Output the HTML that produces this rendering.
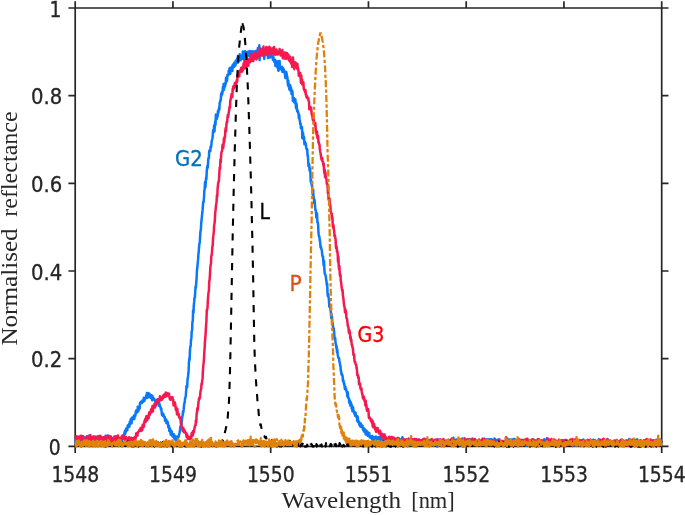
<!DOCTYPE html>
<html lang="en"><head><meta charset="utf-8"><title>Normalised reflectance vs wavelength</title>
<style>
html,body{margin:0;padding:0;background:#fff}
body{width:685px;height:515px;overflow:hidden}
svg{display:block}
.tk{font-family:"DejaVu Sans Condensed","DejaVu Sans","Liberation Sans",sans-serif;font-size:21.6px;fill:#262626;stroke:#262626;stroke-width:0.3px}
.lb{font-family:"Liberation Serif","DejaVu Serif",serif;font-size:24px;fill:#262626}
.an{font-family:"DejaVu Sans Condensed","DejaVu Sans","Liberation Sans",sans-serif;font-size:21px;stroke-width:0.3px}
.c{fill:none;stroke-linejoin:round;stroke-linecap:butt}
</style></head><body>
<svg width="685" height="515" viewBox="0 0 685 515">
<rect width="685" height="515" fill="#fff"/>
<path d="M75.2,8.0H661.7V446.3H75.2ZM75.20,446.3v6.8M75.20,8.0v-6.8M172.95,446.3v6.8M172.95,8.0v-6.8M270.70,446.3v6.8M270.70,8.0v-6.8M368.45,446.3v6.8M368.45,8.0v-6.8M466.20,446.3v6.8M466.20,8.0v-6.8M563.95,446.3v6.8M563.95,8.0v-6.8M661.70,446.3v6.8M661.70,8.0v-6.8M75.2,446.30h-6.8M661.7,446.30h6.8M75.2,358.64h-6.8M661.7,358.64h6.8M75.2,270.98h-6.8M661.7,270.98h6.8M75.2,183.32h-6.8M661.7,183.32h6.8M75.2,95.66h-6.8M661.7,95.66h6.8M75.2,8.00h-6.8M661.7,8.00h6.8" fill="none" stroke="#262626" stroke-width="1.7"/>
<path class="c" stroke="#0a78fa" stroke-width="2.5" d="M75.2,439.5 75.5,442.1 75.9,440.0 76.2,437.3 76.6,437.5 76.9,440.4 77.3,436.9 77.6,440.4 78.0,443.1 78.3,438.6 78.7,438.5 79.0,437.7 79.4,437.8 79.7,437.5 80.1,438.6 80.4,438.9 80.8,441.0 81.1,439.1 81.5,440.2 81.8,441.3 82.2,437.8 82.5,436.5 82.9,439.9 83.2,437.6 83.6,436.6 83.9,439.0 84.3,439.4 84.6,441.3 85.0,439.4 85.3,438.6 85.7,438.3 86.0,437.4 86.4,436.9 86.7,436.4 87.1,440.2 87.4,436.8 87.8,437.4 88.1,436.4 88.5,438.9 88.8,435.7 89.2,436.4 89.5,439.8 89.9,438.2 90.2,439.8 90.6,439.3 90.9,438.6 91.3,437.1 91.6,438.2 92.0,438.7 92.3,440.6 92.7,437.9 93.0,439.0 93.4,436.7 93.7,438.8 94.1,438.9 94.4,438.0 94.8,440.1 95.1,437.4 95.5,440.7 95.8,439.6 96.2,438.2 96.5,440.2 96.9,439.7 97.2,436.6 97.6,438.5 97.9,437.9 98.3,438.1 98.6,437.0 99.0,440.3 99.3,437.4 99.7,439.4 100.0,436.9 100.4,440.6 100.7,439.0 101.1,436.7 101.4,439.6 101.8,442.0 102.1,441.3 102.5,438.8 102.8,438.0 103.2,438.0 103.5,441.3 103.9,437.9 104.2,437.2 104.6,440.7 104.9,438.5 105.3,438.3 105.6,435.8 106.0,437.6 106.3,436.0 106.7,436.0 107.0,438.3 107.4,438.0 107.7,437.9 108.1,437.7 108.4,438.8 108.8,435.8 109.1,439.3 109.5,436.1 109.8,436.8 110.2,441.2 110.5,439.5 110.9,439.9 111.2,440.8 111.6,441.1 111.9,438.0 112.3,440.7 112.6,441.0 113.0,439.1 113.3,439.9 113.7,439.8 114.0,440.8 114.4,436.5 114.7,440.2 115.1,437.4 115.4,440.1 115.8,442.4 116.1,438.4 116.5,439.5 116.8,442.4 117.2,439.4 117.5,441.6 117.9,441.3 118.2,440.9 118.6,442.3 118.9,438.6 119.3,438.2 119.6,439.9 120.0,438.4 120.3,438.5 120.7,441.6 121.0,439.4 121.4,438.5 121.7,437.7 122.1,440.9 122.4,437.4 122.8,437.8 123.1,436.0 123.5,435.4 123.8,436.1 124.2,434.9 124.5,432.6 124.9,431.1 125.2,433.8 125.6,430.0 125.9,431.7 126.3,428.4 126.6,428.6 127.0,428.7 127.3,430.3 127.7,425.5 128.0,427.5 128.4,426.7 128.7,426.8 129.1,424.1 129.4,426.8 129.8,421.9 130.1,421.6 130.5,421.1 130.8,419.4 131.2,418.6 131.5,423.4 131.9,420.8 132.2,417.6 132.6,419.4 132.9,419.1 133.3,418.0 133.6,418.7 134.0,415.4 134.3,419.1 134.7,414.9 135.0,415.2 135.4,415.9 135.7,412.1 136.1,410.6 136.4,412.9 136.8,412.8 137.1,411.6 137.5,411.5 137.8,406.7 138.2,411.4 138.5,410.2 138.9,409.0 139.2,406.7 139.6,408.6 139.9,403.7 140.3,402.5 140.6,402.9 141.0,401.8 141.3,402.4 141.7,401.7 142.0,403.1 142.4,400.4 142.7,401.6 143.1,400.1 143.4,401.7 143.8,397.7 144.1,398.0 144.5,400.7 144.8,399.1 145.2,399.1 145.5,398.4 145.9,398.2 146.2,395.5 146.6,397.2 146.9,392.9 147.3,395.8 147.6,397.7 148.0,396.6 148.3,393.1 148.7,393.9 149.0,394.7 149.4,393.6 149.7,396.3 150.1,397.3 150.4,395.0 150.8,397.9 151.1,397.8 151.5,395.2 151.8,397.8 152.2,400.2 152.5,396.0 152.9,398.9 153.2,399.0 153.6,399.1 153.9,398.3 154.3,399.9 154.6,399.5 155.0,401.0 155.3,401.4 155.7,400.8 156.0,401.8 156.4,403.2 156.7,402.3 157.1,399.8 157.4,399.6 157.8,403.7 158.1,400.4 158.5,403.4 158.8,405.8 159.2,403.0 159.5,403.9 159.9,405.9 160.2,406.8 160.6,407.0 160.9,409.4 161.3,408.6 161.6,411.7 162.0,415.2 162.3,413.1 162.7,414.3 163.0,416.1 163.4,414.1 163.7,415.9 164.1,416.4 164.4,417.8 164.8,416.8 165.1,420.8 165.5,421.3 165.8,420.1 166.2,419.4 166.5,423.3 166.9,421.3 167.2,421.2 167.6,422.1 167.9,422.9 168.3,427.3 168.6,425.3 169.0,426.0 169.3,430.9 169.7,430.4 170.0,428.6 170.4,430.1 170.7,434.6 171.1,431.7 171.4,433.6 171.8,431.5 172.1,434.9 172.5,436.3 172.8,436.0 173.2,437.0 173.5,434.2 173.9,434.2 174.2,436.0 174.6,439.3 174.9,436.0 175.3,437.0 175.6,439.3 176.0,440.8 176.3,440.4 176.7,437.2 177.0,436.6 177.4,439.8 177.7,438.2 178.1,437.4 178.4,437.4 178.8,436.1 179.1,434.2 179.5,433.4 179.8,430.9 180.2,428.8 180.5,426.2 180.9,427.1 181.2,425.8 181.6,422.7 181.9,419.7 182.3,416.6 182.6,415.6 183.0,411.2 183.3,412.7 183.7,409.2 184.0,405.5 184.4,402.9 184.7,402.6 185.1,398.1 185.4,397.6 185.8,396.2 186.1,391.2 186.5,386.0 186.8,386.9 187.2,386.9 187.5,379.6 187.9,377.9 188.2,374.5 188.6,371.5 188.9,363.4 189.3,358.4 189.6,360.0 190.0,350.4 190.3,346.6 190.7,346.0 191.0,340.0 191.4,337.9 191.7,331.0 192.1,330.8 192.4,321.9 192.8,321.1 193.1,310.4 193.5,312.6 193.8,305.4 194.2,301.7 194.5,297.7 194.9,297.4 195.2,291.8 195.6,286.5 195.9,287.6 196.3,281.7 196.6,278.3 197.0,269.7 197.3,268.0 197.7,263.1 198.0,260.7 198.4,254.4 198.7,251.8 199.1,246.7 199.4,243.6 199.8,242.6 200.1,236.5 200.5,230.9 200.8,230.4 201.2,223.4 201.5,220.5 201.9,216.6 202.2,213.3 202.6,210.4 202.9,205.6 203.3,201.7 203.6,202.2 204.0,197.8 204.3,191.3 204.7,188.5 205.0,182.3 205.4,187.5 205.7,183.2 206.1,177.5 206.4,179.3 206.8,170.5 207.1,168.0 207.5,165.8 207.8,167.7 208.2,159.9 208.5,158.0 208.9,158.4 209.2,151.0 209.6,150.4 209.9,150.0 210.3,151.1 210.6,146.7 211.0,147.4 211.3,145.5 211.7,141.1 212.0,140.2 212.4,138.7 212.7,136.5 213.1,130.2 213.4,130.3 213.8,132.0 214.1,125.6 214.5,131.5 214.8,125.8 215.2,121.5 215.5,125.0 215.9,114.6 216.2,118.4 216.6,114.9 216.9,118.9 217.3,114.7 217.6,116.7 218.0,110.8 218.3,112.9 218.7,110.3 219.0,108.1 219.4,109.5 219.7,102.5 220.1,102.4 220.4,100.2 220.8,100.1 221.1,93.9 221.5,95.8 221.8,91.9 222.2,94.0 222.5,92.6 222.9,87.0 223.2,90.6 223.6,84.1 223.9,89.8 224.3,86.4 224.6,83.4 225.0,86.6 225.3,84.1 225.7,84.0 226.0,77.7 226.4,79.7 226.7,81.5 227.1,80.1 227.4,74.9 227.8,75.8 228.1,75.1 228.5,72.9 228.8,70.6 229.2,74.3 229.5,68.3 229.9,68.1 230.2,74.0 230.6,67.7 230.9,70.7 231.3,69.9 231.6,70.0 232.0,66.6 232.3,71.1 232.7,65.3 233.0,64.5 233.4,67.3 233.7,65.6 234.1,66.8 234.4,62.4 234.8,63.4 235.1,62.3 235.5,65.5 235.8,60.6 236.2,61.8 236.5,63.1 236.9,60.0 237.2,58.6 237.6,61.9 237.9,56.0 238.3,62.4 238.6,59.7 239.0,58.8 239.3,60.6 239.7,54.3 240.0,56.3 240.4,60.2 240.7,58.4 241.1,58.4 241.4,58.6 241.8,59.1 242.1,56.5 242.5,55.6 242.8,51.6 243.2,54.3 243.5,53.6 243.9,53.9 244.2,59.6 244.6,54.1 244.9,51.3 245.3,53.3 245.6,53.0 246.0,58.7 246.3,63.2 246.7,52.6 247.0,52.1 247.4,56.5 247.7,54.1 248.1,55.8 248.4,51.5 248.8,55.3 249.1,53.3 249.5,52.3 249.8,51.1 250.2,53.5 250.5,56.1 250.9,54.4 251.2,51.3 251.6,54.4 251.9,52.5 252.3,53.1 252.6,52.2 253.0,51.3 253.3,52.4 253.7,55.4 254.0,55.9 254.4,51.4 254.7,55.6 255.1,56.4 255.4,53.1 255.8,51.1 256.1,52.0 256.5,51.5 256.8,52.8 257.2,50.6 257.5,51.7 257.9,47.9 258.2,50.8 258.6,50.9 258.9,52.9 259.3,45.3 259.6,60.1 260.0,50.5 260.3,50.4 260.7,49.8 261.0,48.6 261.4,50.1 261.7,54.7 262.1,54.8 262.4,50.8 262.8,49.5 263.1,52.2 263.5,55.1 263.8,54.0 264.2,58.9 264.5,55.9 264.9,54.8 265.2,54.5 265.6,54.5 265.9,51.0 266.3,52.5 266.6,52.5 267.0,53.7 267.3,50.4 267.7,53.4 268.0,58.1 268.4,50.8 268.7,51.3 269.1,51.3 269.4,53.9 269.8,57.6 270.1,50.8 270.5,52.1 270.8,52.3 271.2,56.9 271.5,55.8 271.9,56.3 272.2,56.4 272.6,56.9 272.9,59.9 273.3,56.5 273.6,60.4 274.0,58.9 274.3,62.0 274.7,61.9 275.0,59.7 275.4,66.0 275.7,65.5 276.1,65.0 276.4,61.5 276.8,65.8 277.1,65.9 277.5,67.8 277.8,61.2 278.2,70.3 278.5,70.7 278.9,63.8 279.2,65.4 279.6,60.9 279.9,68.2 280.3,68.3 280.6,69.3 281.0,68.2 281.3,67.4 281.7,68.7 282.0,66.8 282.4,72.0 282.7,70.4 283.1,68.2 283.4,70.1 283.8,69.3 284.1,72.2 284.5,72.6 284.8,71.4 285.2,77.2 285.5,78.0 285.9,74.0 286.2,71.9 286.6,73.6 286.9,76.4 287.3,76.5 287.6,80.7 288.0,85.3 288.3,80.4 288.7,86.7 289.0,86.4 289.4,89.5 289.7,84.8 290.1,85.0 290.4,90.5 290.8,87.2 291.1,88.3 291.5,93.9 291.8,93.4 292.2,90.6 292.5,92.7 292.9,101.0 293.2,97.7 293.6,100.7 293.9,98.0 294.3,102.5 294.6,98.8 295.0,103.0 295.3,99.2 295.7,104.0 296.0,108.2 296.4,103.4 296.7,105.3 297.1,111.2 297.4,110.5 297.8,110.7 298.1,113.2 298.5,113.0 298.8,117.8 299.2,114.9 299.5,119.3 299.9,120.5 300.2,124.1 300.6,123.3 300.9,128.2 301.3,127.2 301.6,127.9 302.0,127.0 302.3,138.1 302.7,134.8 303.0,132.6 303.4,138.8 303.7,136.4 304.1,137.9 304.4,144.3 304.8,142.6 305.1,141.7 305.5,144.7 305.8,143.5 306.2,147.8 306.5,149.0 306.9,149.7 307.2,149.1 307.6,155.9 307.9,155.9 308.3,163.0 308.6,166.4 309.0,163.9 309.3,165.7 309.7,170.8 310.0,168.6 310.4,173.2 310.7,181.4 311.1,180.2 311.4,184.2 311.8,181.8 312.1,187.6 312.5,191.3 312.8,194.9 313.2,189.8 313.5,197.3 313.9,197.6 314.2,203.2 314.6,200.0 314.9,203.8 315.3,209.3 315.6,209.8 316.0,212.4 316.3,217.5 316.7,215.0 317.0,213.2 317.4,222.3 317.7,221.9 318.1,224.1 318.4,231.3 318.8,236.0 319.1,235.7 319.5,237.8 319.8,240.3 320.2,242.5 320.5,247.2 320.9,246.4 321.2,248.8 321.6,249.4 321.9,250.8 322.3,255.4 322.6,256.5 323.0,256.4 323.3,261.3 323.7,265.7 324.0,260.7 324.4,269.6 324.7,273.2 325.1,274.6 325.4,274.7 325.8,276.4 326.1,279.6 326.5,281.1 326.8,285.1 327.2,283.8 327.5,293.2 327.9,296.3 328.2,294.2 328.6,297.4 328.9,299.7 329.3,306.4 329.6,307.1 330.0,304.7 330.3,307.6 330.7,311.0 331.0,314.3 331.4,318.5 331.7,314.5 332.1,318.3 332.4,321.9 332.8,324.4 333.1,327.6 333.5,328.6 333.8,328.6 334.2,332.9 334.5,338.1 334.9,338.8 335.2,337.8 335.6,343.6 335.9,344.0 336.3,347.9 336.6,346.1 337.0,352.1 337.3,349.5 337.7,354.4 338.0,356.0 338.4,358.1 338.7,358.0 339.1,358.4 339.4,361.6 339.8,362.6 340.1,365.0 340.5,366.1 340.8,370.9 341.2,371.4 341.5,374.7 341.9,374.1 342.2,374.7 342.6,376.0 342.9,381.0 343.3,380.1 343.6,381.7 344.0,384.4 344.3,383.4 344.7,387.8 345.0,389.1 345.4,386.8 345.7,389.7 346.1,389.2 346.4,390.7 346.8,391.7 347.1,394.1 347.5,396.9 347.8,392.3 348.2,398.0 348.5,397.6 348.9,398.3 349.2,402.6 349.6,402.0 349.9,400.5 350.3,405.6 350.6,402.1 351.0,403.2 351.3,404.3 351.7,408.6 352.0,405.5 352.4,411.2 352.7,410.3 353.1,407.3 353.4,411.0 353.8,411.0 354.1,412.6 354.5,413.7 354.8,413.4 355.2,415.9 355.5,412.4 355.9,416.4 356.2,415.1 356.6,417.1 356.9,417.7 357.3,421.2 357.6,416.4 358.0,419.4 358.3,422.5 358.7,422.3 359.0,421.7 359.4,425.2 359.7,422.8 360.1,424.2 360.4,426.7 360.8,423.5 361.1,426.0 361.5,426.0 361.8,426.9 362.2,426.4 362.5,425.6 362.9,429.5 363.2,429.1 363.6,430.2 363.9,431.6 364.3,428.5 364.6,429.1 365.0,430.7 365.3,430.8 365.7,434.6 366.0,430.7 366.4,430.5 366.7,433.4 367.1,432.0 367.4,431.7 367.8,435.8 368.1,435.9 368.5,434.2 368.8,436.2 369.2,432.9 369.5,435.6 369.9,437.5 370.2,435.9 370.6,436.4 370.9,438.1 371.3,438.1 371.6,436.6 372.0,439.3 372.3,436.1 372.7,442.6 373.0,436.9 373.4,438.0 373.7,437.2 374.1,439.8 374.4,438.6 374.8,439.5 375.1,441.8 375.5,441.1 375.8,436.5 376.2,440.4 376.5,439.9 376.9,439.3 377.2,439.0 377.6,438.5 377.9,438.5 378.3,437.1 378.6,438.9 379.0,438.2 379.3,438.6 379.7,439.2 380.0,437.0 380.4,438.3 380.7,443.2 381.1,438.9 381.4,439.7 381.8,441.1 382.1,439.6 382.5,439.7 382.8,442.8 383.2,443.3 383.5,441.9 383.9,438.7 384.2,440.5 384.6,438.5 384.9,438.7 385.3,440.0 385.6,439.1 386.0,441.3 386.3,439.5 386.7,438.7 387.0,442.4 387.4,440.2 387.7,440.2 388.1,439.4 388.4,443.3 388.8,441.8 389.1,441.7 389.5,442.0 389.8,438.6 390.2,440.1 390.5,440.8 390.9,445.5 391.2,442.5 391.6,441.4 391.9,439.9 392.3,438.3 392.6,441.7 393.0,438.7 393.3,438.4 393.7,440.7 394.0,442.3 394.4,442.2 394.7,440.1 395.1,440.1 395.4,438.7 395.8,442.5 396.1,443.4 396.5,439.6 396.8,442.6 397.2,440.6 397.5,441.0 397.9,441.8 398.2,438.5 398.6,441.6 398.9,439.5 399.3,442.2 399.6,441.6 400.0,443.0 400.3,444.3 400.7,440.5 401.0,439.4 401.4,443.9 401.7,440.8 402.1,439.0 402.4,437.2 402.8,444.0 403.1,442.1 403.5,439.7 403.8,442.2 404.2,442.6 404.5,441.4 404.9,444.5 405.2,443.5 405.6,439.9 405.9,440.9 406.3,441.7 406.6,442.6 407.0,442.6 407.3,442.7 407.7,441.6 408.0,440.7 408.4,443.0 408.7,438.6 409.1,442.1 409.4,441.5 409.8,440.9 410.1,444.3 410.5,442.6 410.8,440.4 411.2,441.1 411.5,442.9 411.9,440.5 412.2,441.9 412.6,440.0 412.9,441.9 413.3,442.8 413.6,443.4 414.0,442.0 414.3,443.1 414.7,440.3 415.0,444.3 415.4,444.8 415.7,441.3 416.1,441.8 416.4,443.3 416.8,440.0 417.1,443.1 417.5,440.6 417.8,442.4 418.2,441.2 418.5,441.5 418.9,443.9 419.2,440.2 419.6,443.8 419.9,443.1 420.3,441.0 420.6,440.8 421.0,440.6 421.3,441.6 421.7,444.2 422.0,440.9 422.4,442.6 422.7,445.0 423.1,444.2 423.4,443.4 423.8,445.3 424.1,441.1 424.5,444.9 424.8,441.2 425.2,445.0 425.5,444.0 425.9,443.1 426.2,440.9 426.6,439.5 426.9,442.6 427.3,441.5 427.6,440.2 428.0,440.2 428.3,444.5 428.7,443.7 429.0,441.5 429.4,440.4 429.7,440.9 430.1,439.8 430.4,441.4 430.8,442.9 431.1,442.2 431.5,441.0 431.8,440.9 432.2,444.0 432.5,440.6 432.9,441.3 433.2,442.1 433.6,444.1 433.9,440.8 434.3,441.7 434.6,441.0 435.0,442.8 435.3,440.7 435.7,442.1 436.0,444.5 436.4,443.2 436.7,441.9 437.1,440.8 437.4,446.6 437.8,439.5 438.1,440.1 438.5,443.9 438.8,439.8 439.2,440.2 439.5,440.7 439.9,440.3 440.2,441.5 440.6,441.7 440.9,440.4 441.3,440.3 441.6,443.3 442.0,443.8 442.3,442.8 442.7,440.0 443.0,442.6 443.4,441.9 443.7,443.2 444.1,444.7 444.4,441.7 444.8,441.7 445.1,440.7 445.5,441.4 445.8,442.9 446.2,443.5 446.5,440.8 446.9,443.7 447.2,443.2 447.6,440.7 447.9,441.4 448.3,442.7 448.6,439.7 449.0,442.7 449.3,442.2 449.7,443.0 450.0,443.3 450.4,442.9 450.7,441.1 451.1,441.2 451.4,443.1 451.8,440.4 452.1,443.1 452.5,442.2 452.8,443.5 453.2,445.0 453.5,437.8 453.9,444.6 454.2,442.9 454.6,440.4 454.9,440.8 455.3,440.5 455.6,442.0 456.0,439.7 456.3,440.2 456.7,439.5 457.0,441.2 457.4,443.5 457.7,443.7 458.1,440.7 458.4,442.5 458.8,441.3 459.1,441.9 459.5,445.9 459.8,441.7 460.2,444.6 460.5,443.2 460.9,441.0 461.2,442.5 461.6,440.4 461.9,443.6 462.3,438.5 462.6,440.5 463.0,443.7 463.3,442.0 463.7,440.8 464.0,441.9 464.4,440.2 464.7,442.3 465.1,442.9 465.4,443.5 465.8,439.9 466.1,441.7 466.5,443.5 466.8,441.5 467.2,443.0 467.5,439.4 467.9,443.6 468.2,441.8 468.6,442.7 468.9,442.8 469.3,444.3 469.6,438.9 470.0,442.9 470.3,440.5 470.7,440.8 471.0,439.6 471.4,442.4 471.7,441.5 472.1,442.6 472.4,438.4 472.8,439.8 473.1,440.4 473.5,442.5 473.8,442.3 474.2,441.1 474.5,442.2 474.9,443.0 475.2,441.5 475.6,441.0 475.9,441.6 476.3,444.9 476.6,443.2 477.0,441.4 477.3,441.4 477.7,441.9 478.0,442.4 478.4,441.6 478.7,443.7 479.1,441.8 479.4,441.2 479.8,441.9 480.1,444.0 480.5,444.3 480.8,442.1 481.2,442.6 481.5,441.4 481.9,444.4 482.2,440.2 482.6,439.5 482.9,443.8 483.3,441.7 483.6,442.7 484.0,440.8 484.3,441.0 484.7,439.4 485.0,443.1 485.4,440.2 485.7,443.9 486.1,443.1 486.4,440.9 486.8,439.4 487.1,443.4 487.5,440.9 487.8,441.0 488.2,441.5 488.5,439.2 488.9,439.8 489.2,441.2 489.6,441.8 489.9,441.9 490.3,439.2 490.6,441.8 491.0,441.3 491.3,443.7 491.7,439.2 492.0,441.3 492.4,443.9 492.7,441.4 493.1,441.4 493.4,441.6 493.8,441.5 494.1,445.3 494.5,438.4 494.8,439.3 495.2,439.2 495.5,443.5 495.9,442.1 496.2,444.4 496.6,444.9 496.9,444.4 497.3,441.3 497.6,439.8 498.0,442.5 498.3,444.6 498.7,443.1 499.0,439.5 499.4,442.9 499.7,443.6 500.1,443.2 500.4,443.6 500.8,443.5 501.1,443.5 501.5,442.3 501.8,441.1 502.2,443.5 502.5,441.2 502.9,441.5 503.2,444.5 503.6,441.5 503.9,443.2 504.3,443.3 504.6,441.5 505.0,443.8 505.3,443.2 505.7,441.0 506.0,441.1 506.4,440.3 506.7,444.7 507.1,440.5 507.4,438.8 507.8,443.3 508.1,442.7 508.5,442.7 508.8,442.5 509.2,439.5 509.5,439.7 509.9,441.7 510.2,439.7 510.6,441.3 510.9,442.3 511.3,442.9 511.6,441.4 512.0,439.4 512.3,441.6 512.7,442.2 513.0,439.9 513.4,442.6 513.7,439.0 514.1,445.5 514.4,439.0 514.8,442.5 515.1,444.0 515.5,443.7 515.8,444.0 516.2,443.5 516.5,441.0 516.9,440.8 517.2,442.6 517.6,444.3 517.9,440.7 518.3,442.9 518.6,440.6 519.0,442.2 519.3,441.5 519.7,443.4 520.0,444.6 520.4,442.0 520.7,441.4 521.1,442.4 521.4,441.3 521.8,441.4 522.1,440.6 522.5,442.1 522.8,440.1 523.2,440.5 523.5,440.0 523.9,442.0 524.2,440.6 524.6,443.4 524.9,443.3 525.3,442.2 525.6,443.8 526.0,445.8 526.3,442.9 526.7,443.1 527.0,442.2 527.4,443.4 527.7,444.6 528.1,441.5 528.4,444.9 528.8,442.4 529.1,443.0 529.5,443.4 529.8,443.9 530.2,441.1 530.5,443.6 530.9,440.6 531.2,441.9 531.6,442.6 531.9,439.5 532.3,440.6 532.6,442.9 533.0,443.3 533.3,442.4 533.7,441.6 534.0,442.6 534.4,440.0 534.7,441.7 535.1,442.1 535.4,441.3 535.8,441.6 536.1,440.6 536.5,442.7 536.8,442.6 537.2,443.0 537.5,441.1 537.9,439.6 538.2,441.5 538.6,442.6 538.9,444.0 539.3,442.5 539.6,440.1 540.0,443.1 540.3,441.1 540.7,443.0 541.0,440.5 541.4,440.3 541.7,442.8 542.1,442.1 542.4,442.0 542.8,442.8 543.1,442.7 543.5,440.3 543.8,441.4 544.2,439.2 544.5,442.7 544.9,441.7 545.2,442.2 545.6,440.0 545.9,442.5 546.3,439.8 546.6,441.7 547.0,438.3 547.3,442.5 547.7,444.0 548.0,441.8 548.4,440.5 548.7,442.1 549.1,440.4 549.4,445.3 549.8,439.9 550.1,440.5 550.5,442.2 550.8,440.6 551.2,441.4 551.5,440.2 551.9,443.3 552.2,443.5 552.6,440.3 552.9,442.6 553.3,439.9 553.6,442.5 554.0,441.9 554.3,440.9 554.7,444.0 555.0,443.4 555.4,441.2 555.7,440.7 556.1,443.2 556.4,446.6 556.8,442.6 557.1,444.5 557.5,445.3 557.8,443.9 558.2,443.5 558.5,442.6 558.9,440.9 559.2,443.9 559.6,445.9 559.9,441.7 560.3,442.0 560.6,440.6 561.0,444.3 561.3,441.3 561.7,443.7 562.0,441.0 562.4,443.5 562.7,443.3 563.1,442.6 563.4,440.6 563.8,441.8 564.1,442.9 564.5,440.3 564.8,440.1 565.2,441.7 565.5,440.0 565.9,444.2 566.2,443.3 566.6,443.2 566.9,444.2 567.3,442.2 567.6,440.8 568.0,443.4 568.3,443.1 568.7,443.2 569.0,442.5 569.4,444.5 569.7,442.1 570.1,441.5 570.4,442.1 570.8,441.6 571.1,440.7 571.5,439.8 571.8,443.6 572.2,441.7 572.5,443.5 572.9,444.7 573.2,443.7 573.6,444.0 573.9,445.5 574.3,442.3 574.6,443.2 575.0,441.1 575.3,442.5 575.7,445.6 576.0,441.2 576.4,443.2 576.7,443.8 577.1,442.7 577.4,443.4 577.8,441.7 578.1,441.0 578.5,442.1 578.8,441.1 579.2,442.1 579.5,441.6 579.9,446.0 580.2,441.8 580.6,443.2 580.9,445.2 581.3,441.2 581.6,444.5 582.0,442.5 582.3,443.0 582.7,442.1 583.0,442.0 583.4,439.6 583.7,441.5 584.1,441.4 584.4,442.2 584.8,442.6 585.1,442.4 585.5,444.3 585.8,443.6 586.2,440.7 586.5,441.8 586.9,441.2 587.2,440.5 587.6,444.7 587.9,442.1 588.3,440.9 588.6,440.3 589.0,441.9 589.3,441.0 589.7,440.4 590.0,443.2 590.4,440.7 590.7,442.8 591.1,441.7 591.4,442.0 591.8,441.5 592.1,442.4 592.5,445.5 592.8,443.6 593.2,439.8 593.5,441.4 593.9,440.6 594.2,440.8 594.6,441.2 594.9,440.0 595.3,444.4 595.6,443.2 596.0,443.1 596.3,443.7 596.7,440.9 597.0,443.0 597.4,441.3 597.7,440.9 598.1,442.0 598.4,443.0 598.8,439.2 599.1,440.3 599.5,441.8 599.8,442.8 600.2,442.4 600.5,443.3 600.9,440.4 601.2,440.3 601.6,440.7 601.9,440.5 602.3,443.2 602.6,444.6 603.0,442.7 603.3,440.0 603.7,440.9 604.0,442.7 604.4,443.5 604.7,442.9 605.1,441.7 605.4,442.4 605.8,442.8 606.1,444.3 606.5,442.1 606.8,441.2 607.2,439.4 607.5,440.2 607.9,443.6 608.2,441.9 608.6,444.5 608.9,440.6 609.3,441.1 609.6,444.7 610.0,442.9 610.3,440.5 610.7,442.2 611.0,443.1 611.4,443.9 611.7,442.6 612.1,442.4 612.4,445.3 612.8,443.0 613.1,443.7 613.5,442.2 613.8,440.9 614.2,441.3 614.5,441.6 614.9,441.6 615.2,442.5 615.6,442.8 615.9,442.4 616.3,442.1 616.6,444.1 617.0,440.6 617.3,441.2 617.7,443.5 618.0,443.0 618.4,443.8 618.7,441.5 619.1,442.7 619.4,441.0 619.8,443.5 620.1,444.8 620.5,441.8 620.8,440.4 621.2,445.3 621.5,442.9 621.9,442.5 622.2,444.5 622.6,443.9 622.9,444.0 623.3,442.3 623.6,443.7 624.0,442.8 624.3,441.4 624.7,442.3 625.0,442.0 625.4,443.8 625.7,443.7 626.1,440.4 626.4,441.2 626.8,441.4 627.1,441.3 627.5,443.0 627.8,443.2 628.2,442.8 628.5,442.3 628.9,442.2 629.2,439.0 629.6,440.7 629.9,439.5 630.3,443.2 630.6,440.1 631.0,440.8 631.3,441.0 631.7,440.9 632.0,443.0 632.4,440.4 632.7,442.2 633.1,445.4 633.4,444.6 633.8,442.7 634.1,442.6 634.5,440.8 634.8,444.1 635.2,442.5 635.5,442.3 635.9,440.1 636.2,439.7 636.6,441.9 636.9,440.9 637.3,439.4 637.6,441.5 638.0,442.7 638.3,441.9 638.7,441.5 639.0,442.2 639.4,441.4 639.7,443.5 640.1,442.2 640.4,440.2 640.8,443.7 641.1,441.4 641.5,441.1 641.8,442.0 642.2,443.2 642.5,443.4 642.9,443.3 643.2,442.5 643.6,443.9 643.9,440.2 644.3,442.6 644.6,441.8 645.0,442.0 645.3,440.9 645.7,441.1 646.0,439.9 646.4,443.6 646.7,443.5 647.1,444.5 647.4,439.8 647.8,443.3 648.1,443.5 648.5,441.0 648.8,441.1 649.2,442.4 649.5,442.6 649.9,440.9 650.2,442.9 650.6,442.3 650.9,443.4 651.3,444.1 651.6,444.7 652.0,441.8 652.3,442.9 652.7,443.4 653.0,442.8 653.4,440.2 653.7,444.4 654.1,442.7 654.4,440.7 654.8,440.5 655.1,441.6 655.5,441.4 655.8,441.1 656.2,440.9 656.5,440.7 656.9,442.8 657.2,442.3 657.6,439.0 657.9,440.8 658.3,440.1 658.6,439.0 659.0,443.6 659.3,441.1 659.7,443.0 660.0,440.2 660.4,439.9 660.7,444.0 661.1,444.1 661.4,440.5"/>
<path class="c" stroke="#f5194f" stroke-width="2.5" d="M75.2,438.3 75.5,436.9 75.9,437.6 76.2,439.4 76.6,436.3 76.9,437.1 77.3,440.0 77.6,440.1 78.0,438.9 78.3,441.2 78.7,436.8 79.0,436.6 79.4,440.6 79.7,439.7 80.1,437.8 80.4,438.3 80.8,435.7 81.1,436.9 81.5,437.9 81.8,439.6 82.2,437.3 82.5,436.1 82.9,436.5 83.2,437.8 83.6,441.3 83.9,440.5 84.3,439.6 84.6,441.0 85.0,439.6 85.3,439.6 85.7,439.1 86.0,439.2 86.4,439.0 86.7,440.2 87.1,436.4 87.4,440.2 87.8,436.7 88.1,437.9 88.5,440.7 88.8,438.6 89.2,438.7 89.5,437.3 89.9,438.7 90.2,435.0 90.6,438.8 90.9,440.1 91.3,437.5 91.6,439.0 92.0,438.1 92.3,437.1 92.7,439.2 93.0,437.1 93.4,436.6 93.7,438.1 94.1,440.2 94.4,440.7 94.8,441.7 95.1,436.6 95.5,440.0 95.8,438.6 96.2,439.8 96.5,438.8 96.9,439.6 97.2,437.7 97.6,437.4 97.9,436.7 98.3,436.2 98.6,439.0 99.0,436.9 99.3,436.9 99.7,438.5 100.0,435.8 100.4,440.4 100.7,438.6 101.1,438.1 101.4,439.3 101.8,441.7 102.1,438.3 102.5,437.5 102.8,438.9 103.2,440.0 103.5,442.1 103.9,438.3 104.2,437.0 104.6,439.1 104.9,439.7 105.3,439.8 105.6,441.0 106.0,441.8 106.3,438.3 106.7,439.2 107.0,440.8 107.4,437.3 107.7,435.6 108.1,435.8 108.4,440.0 108.8,438.9 109.1,439.6 109.5,439.3 109.8,440.5 110.2,439.0 110.5,438.3 110.9,436.5 111.2,438.6 111.6,439.6 111.9,442.6 112.3,441.1 112.6,438.8 113.0,439.8 113.3,438.6 113.7,440.3 114.0,440.3 114.4,437.3 114.7,440.1 115.1,437.1 115.4,440.7 115.8,436.2 116.1,439.0 116.5,437.0 116.8,439.1 117.2,441.5 117.5,439.9 117.9,435.5 118.2,440.9 118.6,439.3 118.9,438.9 119.3,441.7 119.6,438.9 120.0,438.4 120.3,438.8 120.7,440.4 121.0,439.6 121.4,437.8 121.7,436.5 122.1,437.5 122.4,435.4 122.8,435.9 123.1,438.2 123.5,436.6 123.8,436.6 124.2,438.9 124.5,439.6 124.9,439.1 125.2,437.2 125.6,439.4 125.9,436.8 126.3,437.6 126.6,439.1 127.0,439.1 127.3,439.5 127.7,441.1 128.0,439.3 128.4,438.6 128.7,440.4 129.1,437.2 129.4,440.8 129.8,441.1 130.1,439.5 130.5,440.8 130.8,437.9 131.2,437.8 131.5,439.4 131.9,439.8 132.2,439.9 132.6,438.3 132.9,440.2 133.3,442.6 133.6,440.4 134.0,437.9 134.3,437.3 134.7,437.3 135.0,438.5 135.4,439.1 135.7,438.2 136.1,434.3 136.4,433.2 136.8,433.7 137.1,434.6 137.5,435.7 137.8,432.4 138.2,431.9 138.5,431.8 138.9,430.9 139.2,431.2 139.6,429.6 139.9,429.3 140.3,429.3 140.6,427.9 141.0,428.6 141.3,431.1 141.7,429.3 142.0,427.2 142.4,429.9 142.7,424.8 143.1,425.1 143.4,427.0 143.8,426.9 144.1,424.2 144.5,420.9 144.8,422.3 145.2,419.2 145.5,418.6 145.9,421.7 146.2,416.8 146.6,416.0 146.9,417.0 147.3,420.2 147.6,417.4 148.0,415.8 148.3,416.3 148.7,418.3 149.0,413.1 149.4,412.3 149.7,415.0 150.1,413.2 150.4,413.3 150.8,411.5 151.1,409.3 151.5,411.9 151.8,412.2 152.2,407.9 152.5,406.0 152.9,411.4 153.2,406.8 153.6,405.8 153.9,406.9 154.3,405.8 154.6,403.6 155.0,407.6 155.3,403.8 155.7,405.9 156.0,404.2 156.4,402.0 156.7,401.2 157.1,402.6 157.4,401.7 157.8,399.2 158.1,400.0 158.5,401.2 158.8,401.5 159.2,399.0 159.5,401.0 159.9,396.3 160.2,397.2 160.6,400.2 160.9,398.3 161.3,397.9 161.6,398.7 162.0,399.6 162.3,398.9 162.7,398.3 163.0,395.8 163.4,398.0 163.7,394.9 164.1,395.4 164.4,394.4 164.8,396.6 165.1,396.8 165.5,395.8 165.8,392.6 166.2,394.9 166.5,393.3 166.9,396.2 167.2,393.3 167.6,395.1 167.9,393.5 168.3,393.7 168.6,395.4 169.0,393.6 169.3,396.1 169.7,398.7 170.0,398.0 170.4,399.8 170.7,397.9 171.1,397.5 171.4,397.3 171.8,398.4 172.1,397.4 172.5,397.2 172.8,400.5 173.2,399.6 173.5,405.3 173.9,403.1 174.2,403.4 174.6,405.9 174.9,402.5 175.3,405.0 175.6,407.8 176.0,410.3 176.3,407.4 176.7,410.4 177.0,414.5 177.4,409.0 177.7,413.9 178.1,414.7 178.4,413.7 178.8,414.3 179.1,417.5 179.5,416.8 179.8,418.0 180.2,419.0 180.5,417.9 180.9,423.9 181.2,421.8 181.6,426.5 181.9,427.5 182.3,427.7 182.6,430.9 183.0,429.1 183.3,427.9 183.7,430.6 184.0,432.3 184.4,429.9 184.7,432.4 185.1,431.5 185.4,433.0 185.8,432.6 186.1,432.9 186.5,436.8 186.8,436.4 187.2,434.4 187.5,438.0 187.9,438.9 188.2,437.3 188.6,438.2 188.9,437.0 189.3,439.1 189.6,437.3 190.0,437.9 190.3,438.8 190.7,436.2 191.0,438.5 191.4,436.9 191.7,433.0 192.1,433.5 192.4,433.8 192.8,435.5 193.1,431.0 193.5,431.2 193.8,432.5 194.2,429.7 194.5,428.3 194.9,426.3 195.2,425.2 195.6,425.3 195.9,420.4 196.3,422.2 196.6,414.2 197.0,412.1 197.3,408.3 197.7,410.2 198.0,407.7 198.4,402.8 198.7,401.0 199.1,398.1 199.4,399.1 199.8,398.1 200.1,395.6 200.5,391.6 200.8,389.9 201.2,389.0 201.5,383.7 201.9,384.5 202.2,380.3 202.6,378.4 202.9,371.1 203.3,365.4 203.6,363.5 204.0,358.4 204.3,352.0 204.7,347.2 205.0,341.1 205.4,336.6 205.7,332.2 206.1,324.6 206.4,321.7 206.8,309.7 207.1,309.8 207.5,308.3 207.8,300.9 208.2,295.9 208.5,292.5 208.9,291.2 209.2,281.3 209.6,280.0 209.9,275.6 210.3,267.7 210.6,265.3 211.0,263.2 211.3,256.0 211.7,255.2 212.0,252.1 212.4,246.2 212.7,245.9 213.1,237.3 213.4,235.4 213.8,232.1 214.1,225.8 214.5,223.6 214.8,220.8 215.2,212.6 215.5,210.9 215.9,206.4 216.2,204.1 216.6,201.6 216.9,195.4 217.3,196.4 217.6,188.8 218.0,184.7 218.3,182.1 218.7,181.9 219.0,179.5 219.4,172.3 219.7,167.7 220.1,168.5 220.4,159.7 220.8,162.2 221.1,155.1 221.5,152.3 221.8,151.6 222.2,150.1 222.5,145.2 222.9,144.3 223.2,148.1 223.6,144.4 223.9,138.4 224.3,142.0 224.6,136.7 225.0,137.4 225.3,130.9 225.7,128.0 226.0,131.5 226.4,125.1 226.7,122.1 227.1,122.4 227.4,118.7 227.8,114.9 228.1,117.0 228.5,114.1 228.8,112.1 229.2,110.3 229.5,106.9 229.9,107.9 230.2,101.5 230.6,99.3 230.9,98.5 231.3,96.3 231.6,94.0 232.0,94.4 232.3,97.1 232.7,88.7 233.0,90.2 233.4,86.2 233.7,88.8 234.1,87.8 234.4,87.4 234.8,82.9 235.1,86.5 235.5,83.5 235.8,82.6 236.2,84.4 236.5,81.5 236.9,79.9 237.2,81.7 237.6,75.0 237.9,75.7 238.3,72.9 238.6,72.6 239.0,75.5 239.3,76.4 239.7,70.5 240.0,70.7 240.4,70.7 240.7,70.3 241.1,68.1 241.4,67.6 241.8,71.8 242.1,68.7 242.5,67.5 242.8,70.6 243.2,68.8 243.5,63.5 243.9,68.6 244.2,65.1 244.6,60.3 244.9,67.1 245.3,62.3 245.6,66.9 246.0,68.2 246.3,62.1 246.7,66.0 247.0,63.6 247.4,59.5 247.7,62.8 248.1,59.2 248.4,65.7 248.8,59.5 249.1,60.8 249.5,61.9 249.8,61.4 250.2,62.2 250.5,56.7 250.9,54.3 251.2,59.7 251.6,60.8 251.9,57.0 252.3,57.6 252.6,55.8 253.0,54.2 253.3,61.1 253.7,55.8 254.0,59.0 254.4,57.1 254.7,53.1 255.1,52.4 255.4,53.5 255.8,55.4 256.1,56.3 256.5,59.5 256.8,57.9 257.2,57.3 257.5,54.2 257.9,53.4 258.2,55.8 258.6,52.6 258.9,57.2 259.3,54.7 259.6,49.3 260.0,54.4 260.3,49.6 260.7,50.2 261.0,55.2 261.4,52.6 261.7,54.7 262.1,55.7 262.4,50.8 262.8,53.0 263.1,50.4 263.5,46.5 263.8,50.0 264.2,50.3 264.5,54.0 264.9,52.6 265.2,54.9 265.6,49.1 265.9,52.4 266.3,47.0 266.6,47.9 267.0,50.6 267.3,50.1 267.7,55.4 268.0,48.1 268.4,48.4 268.7,53.5 269.1,52.7 269.4,46.7 269.8,49.2 270.1,49.1 270.5,47.9 270.8,50.7 271.2,53.7 271.5,53.6 271.9,49.3 272.2,48.9 272.6,50.2 272.9,50.6 273.3,48.0 273.6,54.7 274.0,46.9 274.3,49.4 274.7,52.9 275.0,53.6 275.4,52.6 275.7,54.7 276.1,51.6 276.4,49.4 276.8,52.0 277.1,53.0 277.5,51.5 277.8,54.6 278.2,53.3 278.5,51.9 278.9,53.1 279.2,52.9 279.6,49.0 279.9,50.6 280.3,52.0 280.6,55.4 281.0,51.5 281.3,54.8 281.7,51.2 282.0,51.8 282.4,50.0 282.7,58.2 283.1,55.5 283.4,54.5 283.8,52.8 284.1,57.0 284.5,52.8 284.8,58.6 285.2,52.6 285.5,56.8 285.9,56.6 286.2,58.7 286.6,56.6 286.9,53.0 287.3,58.4 287.6,56.5 288.0,57.9 288.3,54.6 288.7,56.7 289.0,60.6 289.4,58.5 289.7,56.8 290.1,56.7 290.4,61.9 290.8,61.3 291.1,63.5 291.5,61.3 291.8,60.7 292.2,67.0 292.5,60.8 292.9,57.4 293.2,63.0 293.6,64.6 293.9,62.9 294.3,69.2 294.6,61.9 295.0,62.8 295.3,66.6 295.7,62.8 296.0,64.5 296.4,63.9 296.7,65.5 297.1,68.7 297.4,63.9 297.8,69.6 298.1,68.1 298.5,70.7 298.8,75.7 299.2,74.4 299.5,76.1 299.9,74.1 300.2,72.9 300.6,77.1 300.9,82.7 301.3,75.5 301.6,82.0 302.0,79.4 302.3,84.5 302.7,82.4 303.0,82.0 303.4,82.2 303.7,88.1 304.1,89.6 304.4,90.2 304.8,91.1 305.1,92.1 305.5,90.0 305.8,94.7 306.2,94.5 306.5,97.5 306.9,96.5 307.2,96.4 307.6,98.5 307.9,98.0 308.3,98.1 308.6,100.6 309.0,101.8 309.3,109.2 309.7,106.6 310.0,108.0 310.4,109.2 310.7,108.2 311.1,107.6 311.4,111.5 311.8,114.9 312.1,114.5 312.5,117.2 312.8,119.5 313.2,120.4 313.5,115.7 313.9,122.9 314.2,122.8 314.6,123.5 314.9,125.5 315.3,123.1 315.6,127.4 316.0,132.5 316.3,131.1 316.7,134.9 317.0,131.7 317.4,137.9 317.7,138.3 318.1,135.9 318.4,142.4 318.8,141.9 319.1,144.1 319.5,144.5 319.8,148.7 320.2,151.4 320.5,152.9 320.9,155.3 321.2,157.7 321.6,159.9 321.9,159.6 322.3,158.0 322.6,161.8 323.0,161.7 323.3,165.5 323.7,163.3 324.0,169.7 324.4,173.3 324.7,169.5 325.1,177.1 325.4,172.3 325.8,177.6 326.1,178.1 326.5,179.4 326.8,184.0 327.2,184.3 327.5,184.3 327.9,193.1 328.2,191.9 328.6,199.3 328.9,200.2 329.3,199.5 329.6,198.7 330.0,205.8 330.3,205.0 330.7,211.2 331.0,212.3 331.4,213.6 331.7,213.4 332.1,218.8 332.4,217.1 332.8,225.5 333.1,227.8 333.5,225.2 333.8,229.5 334.2,230.9 334.5,236.1 334.9,235.4 335.2,237.4 335.6,239.2 335.9,246.5 336.3,248.4 336.6,246.4 337.0,251.8 337.3,250.9 337.7,253.8 338.0,261.6 338.4,256.6 338.7,265.4 339.1,269.3 339.4,266.0 339.8,273.9 340.1,276.0 340.5,274.7 340.8,280.7 341.2,282.7 341.5,285.8 341.9,288.9 342.2,290.9 342.6,290.0 342.9,295.6 343.3,297.7 343.6,300.6 344.0,304.8 344.3,306.4 344.7,307.6 345.0,312.3 345.4,309.4 345.7,310.7 346.1,312.7 346.4,317.9 346.8,318.3 347.1,319.6 347.5,322.8 347.8,325.9 348.2,326.3 348.5,327.5 348.9,332.8 349.2,329.9 349.6,331.2 349.9,332.9 350.3,338.6 350.6,336.6 351.0,341.1 351.3,339.5 351.7,344.6 352.0,344.8 352.4,347.1 352.7,347.4 353.1,350.8 353.4,355.0 353.8,354.2 354.1,354.6 354.5,360.8 354.8,362.0 355.2,361.8 355.5,364.1 355.9,364.3 356.2,364.9 356.6,368.1 356.9,369.3 357.3,375.2 357.6,374.6 358.0,375.2 358.3,378.1 358.7,377.1 359.0,384.3 359.4,382.6 359.7,384.8 360.1,383.8 360.4,387.9 360.8,389.5 361.1,388.3 361.5,388.6 361.8,391.7 362.2,394.4 362.5,394.3 362.9,398.0 363.2,396.8 363.6,399.2 363.9,396.8 364.3,399.4 364.6,401.4 365.0,401.3 365.3,405.2 365.7,400.8 366.0,406.4 366.4,404.6 366.7,409.5 367.1,410.8 367.4,408.4 367.8,409.3 368.1,409.0 368.5,410.8 368.8,417.1 369.2,418.2 369.5,418.3 369.9,417.5 370.2,418.8 370.6,419.3 370.9,421.1 371.3,419.4 371.6,419.4 372.0,423.2 372.3,421.1 372.7,426.4 373.0,421.5 373.4,427.3 373.7,424.1 374.1,424.2 374.4,426.1 374.8,427.0 375.1,429.4 375.5,427.4 375.8,430.6 376.2,431.9 376.5,430.8 376.9,429.0 377.2,430.2 377.6,428.0 377.9,431.5 378.3,431.2 378.6,430.7 379.0,433.4 379.3,431.5 379.7,431.9 380.0,430.8 380.4,431.7 380.7,435.3 381.1,434.2 381.4,435.0 381.8,433.9 382.1,437.5 382.5,434.1 382.8,434.8 383.2,437.6 383.5,437.7 383.9,436.7 384.2,438.8 384.6,434.6 384.9,436.8 385.3,438.4 385.6,436.8 386.0,440.0 386.3,440.5 386.7,438.7 387.0,439.4 387.4,439.2 387.7,440.5 388.1,441.1 388.4,437.6 388.8,437.4 389.1,436.9 389.5,439.6 389.8,437.3 390.2,440.8 390.5,441.5 390.9,442.3 391.2,437.0 391.6,441.5 391.9,437.1 392.3,441.1 392.6,438.7 393.0,437.6 393.3,438.1 393.7,437.6 394.0,441.0 394.4,439.0 394.7,440.0 395.1,442.5 395.4,439.0 395.8,441.5 396.1,443.0 396.5,439.7 396.8,443.2 397.2,442.4 397.5,438.1 397.9,441.1 398.2,442.0 398.6,437.9 398.9,443.4 399.3,443.5 399.6,442.4 400.0,442.1 400.3,440.2 400.7,442.2 401.0,441.1 401.4,440.3 401.7,442.2 402.1,439.8 402.4,440.2 402.8,440.0 403.1,439.4 403.5,439.1 403.8,441.4 404.2,441.9 404.5,442.1 404.9,442.0 405.2,439.8 405.6,439.8 405.9,442.1 406.3,439.2 406.6,441.5 407.0,440.6 407.3,441.5 407.7,441.3 408.0,442.0 408.4,439.4 408.7,439.8 409.1,443.4 409.4,443.4 409.8,440.9 410.1,441.8 410.5,439.4 410.8,440.9 411.2,441.1 411.5,441.2 411.9,439.7 412.2,439.1 412.6,443.5 412.9,443.5 413.3,439.6 413.6,441.7 414.0,442.9 414.3,439.0 414.7,442.1 415.0,441.4 415.4,440.7 415.7,439.1 416.1,441.0 416.4,441.3 416.8,439.9 417.1,439.3 417.5,443.0 417.8,441.3 418.2,439.6 418.5,442.6 418.9,439.6 419.2,444.0 419.6,441.5 419.9,443.2 420.3,440.4 420.6,440.6 421.0,440.1 421.3,440.4 421.7,441.2 422.0,443.6 422.4,441.9 422.7,441.3 423.1,439.3 423.4,439.1 423.8,438.9 424.1,443.7 424.5,438.7 424.8,441.2 425.2,442.7 425.5,439.4 425.9,445.3 426.2,444.7 426.6,441.3 426.9,441.5 427.3,442.5 427.6,442.0 428.0,441.7 428.3,442.3 428.7,444.2 429.0,443.4 429.4,440.5 429.7,442.0 430.1,440.6 430.4,442.8 430.8,441.4 431.1,440.0 431.5,442.0 431.8,439.1 432.2,443.7 432.5,440.9 432.9,442.4 433.2,441.3 433.6,443.0 433.9,442.5 434.3,441.2 434.6,440.1 435.0,440.3 435.3,439.6 435.7,440.7 436.0,441.0 436.4,440.0 436.7,439.5 437.1,440.1 437.4,440.3 437.8,440.1 438.1,441.7 438.5,440.3 438.8,440.7 439.2,440.6 439.5,442.8 439.9,441.1 440.2,439.2 440.6,444.1 440.9,441.7 441.3,443.4 441.6,441.3 442.0,441.6 442.3,442.4 442.7,439.9 443.0,443.8 443.4,438.9 443.7,443.6 444.1,442.0 444.4,442.5 444.8,441.5 445.1,442.2 445.5,441.7 445.8,441.9 446.2,440.9 446.5,441.0 446.9,442.9 447.2,443.6 447.6,441.9 447.9,442.7 448.3,445.1 448.6,441.8 449.0,441.6 449.3,441.9 449.7,440.4 450.0,442.4 450.4,440.3 450.7,441.1 451.1,439.4 451.4,443.6 451.8,438.6 452.1,441.7 452.5,442.9 452.8,441.5 453.2,444.0 453.5,440.2 453.9,440.9 454.2,443.1 454.6,442.4 454.9,444.0 455.3,443.0 455.6,444.3 456.0,439.9 456.3,442.4 456.7,442.2 457.0,443.4 457.4,442.0 457.7,440.9 458.1,441.0 458.4,442.0 458.8,441.9 459.1,441.0 459.5,441.5 459.8,442.6 460.2,441.7 460.5,443.5 460.9,441.0 461.2,440.9 461.6,442.3 461.9,444.5 462.3,441.9 462.6,443.9 463.0,439.9 463.3,443.3 463.7,439.4 464.0,443.7 464.4,438.2 464.7,442.7 465.1,442.7 465.4,443.0 465.8,439.8 466.1,441.0 466.5,439.7 466.8,440.7 467.2,441.9 467.5,440.6 467.9,439.6 468.2,440.3 468.6,439.4 468.9,440.5 469.3,441.6 469.6,444.9 470.0,444.0 470.3,442.7 470.7,439.9 471.0,442.7 471.4,443.5 471.7,444.0 472.1,443.1 472.4,443.1 472.8,443.4 473.1,439.3 473.5,442.1 473.8,443.5 474.2,443.7 474.5,440.3 474.9,439.0 475.2,440.3 475.6,443.2 475.9,441.5 476.3,444.0 476.6,440.4 477.0,443.4 477.3,441.3 477.7,441.9 478.0,440.7 478.4,440.5 478.7,440.9 479.1,439.5 479.4,440.4 479.8,444.4 480.1,440.4 480.5,442.7 480.8,443.5 481.2,440.8 481.5,442.7 481.9,439.9 482.2,439.8 482.6,438.6 482.9,439.7 483.3,439.4 483.6,442.1 484.0,442.3 484.3,438.7 484.7,444.8 485.0,444.6 485.4,442.5 485.7,443.5 486.1,443.1 486.4,440.4 486.8,444.6 487.1,445.0 487.5,439.7 487.8,441.9 488.2,442.0 488.5,444.6 488.9,440.1 489.2,443.6 489.6,440.8 489.9,442.3 490.3,443.0 490.6,443.3 491.0,440.2 491.3,442.8 491.7,440.4 492.0,441.4 492.4,441.3 492.7,441.6 493.1,445.3 493.4,443.5 493.8,441.7 494.1,442.7 494.5,440.0 494.8,441.1 495.2,442.0 495.5,442.7 495.9,442.9 496.2,444.2 496.6,444.4 496.9,442.9 497.3,442.7 497.6,443.0 498.0,441.3 498.3,443.9 498.7,441.6 499.0,444.3 499.4,439.4 499.7,442.7 500.1,441.9 500.4,442.8 500.8,442.4 501.1,444.3 501.5,441.6 501.8,441.9 502.2,444.3 502.5,441.0 502.9,444.3 503.2,442.5 503.6,444.4 503.9,443.3 504.3,442.7 504.6,442.6 505.0,443.5 505.3,441.6 505.7,443.9 506.0,437.2 506.4,442.1 506.7,442.5 507.1,441.2 507.4,440.7 507.8,443.5 508.1,443.4 508.5,441.7 508.8,440.8 509.2,445.4 509.5,444.0 509.9,445.0 510.2,444.2 510.6,440.1 510.9,443.2 511.3,441.7 511.6,441.1 512.0,441.4 512.3,444.3 512.7,443.8 513.0,442.0 513.4,442.5 513.7,444.2 514.1,441.9 514.4,441.7 514.8,442.4 515.1,442.5 515.5,443.3 515.8,439.7 516.2,442.0 516.5,441.9 516.9,442.1 517.2,441.8 517.6,444.5 517.9,442.4 518.3,440.1 518.6,439.1 519.0,443.1 519.3,439.3 519.7,444.3 520.0,443.2 520.4,441.4 520.7,442.2 521.1,440.0 521.4,442.2 521.8,442.7 522.1,439.9 522.5,443.8 522.8,441.3 523.2,440.5 523.5,444.4 523.9,444.6 524.2,441.8 524.6,443.4 524.9,439.8 525.3,442.8 525.6,442.4 526.0,444.0 526.3,439.1 526.7,441.3 527.0,442.6 527.4,438.7 527.7,443.4 528.1,444.9 528.4,444.2 528.8,441.3 529.1,442.0 529.5,444.5 529.8,440.3 530.2,443.9 530.5,440.8 530.9,444.7 531.2,441.7 531.6,443.8 531.9,440.4 532.3,442.7 532.6,440.8 533.0,439.2 533.3,441.8 533.7,442.1 534.0,442.4 534.4,441.8 534.7,440.8 535.1,443.3 535.4,442.6 535.8,444.3 536.1,442.8 536.5,441.7 536.8,441.9 537.2,440.8 537.5,442.8 537.9,439.0 538.2,444.1 538.6,441.5 538.9,439.3 539.3,442.2 539.6,443.4 540.0,441.2 540.3,441.6 540.7,443.0 541.0,442.4 541.4,440.6 541.7,440.7 542.1,441.9 542.4,441.7 542.8,444.1 543.1,441.0 543.5,444.3 543.8,444.2 544.2,444.7 544.5,442.7 544.9,443.0 545.2,442.7 545.6,443.2 545.9,442.8 546.3,443.2 546.6,440.0 547.0,443.1 547.3,439.3 547.7,442.6 548.0,438.8 548.4,442.8 548.7,442.8 549.1,439.7 549.4,440.8 549.8,440.4 550.1,442.8 550.5,443.5 550.8,444.8 551.2,443.9 551.5,438.9 551.9,443.8 552.2,444.1 552.6,440.9 552.9,442.7 553.3,443.2 553.6,442.6 554.0,443.7 554.3,439.4 554.7,442.2 555.0,440.2 555.4,442.4 555.7,442.2 556.1,442.1 556.4,440.9 556.8,442.2 557.1,443.4 557.5,442.1 557.8,442.4 558.2,441.6 558.5,444.1 558.9,439.7 559.2,444.1 559.6,443.0 559.9,441.5 560.3,442.5 560.6,441.3 561.0,441.7 561.3,443.0 561.7,440.2 562.0,440.3 562.4,443.0 562.7,440.6 563.1,444.1 563.4,442.4 563.8,440.5 564.1,444.1 564.5,440.7 564.8,446.6 565.2,444.7 565.5,444.6 565.9,444.7 566.2,440.0 566.6,440.3 566.9,440.5 567.3,441.8 567.6,441.4 568.0,443.7 568.3,443.6 568.7,443.2 569.0,444.0 569.4,443.2 569.7,443.3 570.1,439.9 570.4,439.5 570.8,443.2 571.1,443.9 571.5,440.4 571.8,440.8 572.2,442.0 572.5,439.1 572.9,445.9 573.2,441.4 573.6,444.5 573.9,443.9 574.3,443.2 574.6,443.3 575.0,440.3 575.3,439.4 575.7,441.7 576.0,439.4 576.4,444.6 576.7,441.4 577.1,442.9 577.4,441.8 577.8,442.9 578.1,442.2 578.5,443.8 578.8,441.3 579.2,441.0 579.5,440.0 579.9,441.1 580.2,444.0 580.6,445.2 580.9,440.7 581.3,443.8 581.6,443.7 582.0,440.2 582.3,441.3 582.7,444.0 583.0,441.0 583.4,444.1 583.7,442.7 584.1,445.9 584.4,441.8 584.8,440.7 585.1,442.4 585.5,442.5 585.8,441.2 586.2,443.2 586.5,442.0 586.9,444.2 587.2,442.6 587.6,440.9 587.9,439.9 588.3,443.5 588.6,441.1 589.0,442.6 589.3,443.5 589.7,443.2 590.0,440.3 590.4,439.6 590.7,444.0 591.1,440.4 591.4,440.9 591.8,443.5 592.1,441.0 592.5,440.8 592.8,445.7 593.2,443.7 593.5,443.1 593.9,440.8 594.2,441.5 594.6,441.3 594.9,441.0 595.3,441.9 595.6,443.6 596.0,443.0 596.3,444.2 596.7,441.8 597.0,445.5 597.4,442.4 597.7,441.5 598.1,442.6 598.4,443.8 598.8,442.5 599.1,442.8 599.5,444.3 599.8,440.3 600.2,440.4 600.5,439.9 600.9,442.2 601.2,443.2 601.6,441.0 601.9,444.1 602.3,439.7 602.6,443.0 603.0,439.1 603.3,442.8 603.7,438.8 604.0,444.1 604.4,441.7 604.7,441.3 605.1,440.5 605.4,441.0 605.8,441.2 606.1,444.3 606.5,443.3 606.8,441.0 607.2,443.0 607.5,439.1 607.9,440.1 608.2,443.0 608.6,443.2 608.9,443.6 609.3,444.1 609.6,441.2 610.0,441.7 610.3,443.1 610.7,443.4 611.0,442.0 611.4,443.4 611.7,443.0 612.1,441.8 612.4,441.9 612.8,444.5 613.1,441.8 613.5,441.4 613.8,441.4 614.2,442.7 614.5,440.6 614.9,442.0 615.2,443.6 615.6,441.6 615.9,444.0 616.3,441.7 616.6,440.0 617.0,442.4 617.3,440.9 617.7,441.5 618.0,441.7 618.4,442.0 618.7,444.1 619.1,444.0 619.4,442.9 619.8,443.4 620.1,444.7 620.5,443.9 620.8,440.0 621.2,443.8 621.5,439.4 621.9,440.8 622.2,442.8 622.6,440.5 622.9,443.7 623.3,444.1 623.6,440.5 624.0,441.9 624.3,442.8 624.7,441.7 625.0,441.4 625.4,441.8 625.7,441.4 626.1,442.4 626.4,442.8 626.8,443.0 627.1,440.5 627.5,441.9 627.8,441.7 628.2,441.1 628.5,441.6 628.9,445.9 629.2,441.2 629.6,443.7 629.9,442.0 630.3,445.3 630.6,440.9 631.0,441.1 631.3,442.2 631.7,440.6 632.0,439.9 632.4,442.9 632.7,441.4 633.1,439.6 633.4,444.0 633.8,441.7 634.1,439.8 634.5,441.9 634.8,443.1 635.2,443.7 635.5,441.9 635.9,440.5 636.2,443.2 636.6,442.5 636.9,443.8 637.3,441.9 637.6,441.4 638.0,442.0 638.3,442.1 638.7,441.1 639.0,442.6 639.4,443.3 639.7,444.2 640.1,441.1 640.4,444.0 640.8,442.4 641.1,442.4 641.5,444.5 641.8,443.3 642.2,444.7 642.5,443.6 642.9,442.6 643.2,443.1 643.6,444.7 643.9,440.5 644.3,440.2 644.6,444.5 645.0,442.9 645.3,443.2 645.7,440.1 646.0,444.0 646.4,440.6 646.7,439.1 647.1,441.5 647.4,440.9 647.8,440.7 648.1,444.0 648.5,444.2 648.8,440.8 649.2,443.1 649.5,443.7 649.9,441.0 650.2,442.5 650.6,439.4 650.9,441.9 651.3,441.0 651.6,443.6 652.0,441.6 652.3,440.7 652.7,444.4 653.0,440.7 653.4,443.4 653.7,443.0 654.1,441.3 654.4,444.8 654.8,441.8 655.1,441.9 655.5,439.9 655.8,442.7 656.2,441.0 656.5,446.4 656.9,441.8 657.2,445.1 657.6,441.4 657.9,443.6 658.3,444.4 658.6,442.8 659.0,440.3 659.3,445.4 659.7,444.4 660.0,440.5 660.4,444.4 660.7,439.9 661.1,440.0 661.4,439.6"/>
<path class="c" stroke="#000" stroke-width="2.1" stroke-dasharray="7.2 7.65" stroke-dashoffset="12.09" d="M242.4,23.1 242.0,24.2 241.6,26.4 241.2,29.2 240.8,32.2 240.4,36.5 240.0,39.0 239.6,43.1 239.2,46.5 238.8,52.0 238.4,56.1 238.0,62.9 237.6,70.6 237.2,78.0 236.8,86.8 236.4,97.8 236.0,110.3 235.6,122.2 235.2,135.7 234.8,149.0 234.4,163.5 234.0,179.1 233.6,194.4 233.2,212.6 232.8,230.7 232.4,250.0 232.0,270.5 231.6,291.8 231.2,313.1 230.8,333.3 230.4,353.3 230.0,370.5 229.6,384.2 229.2,396.0 228.8,404.6 228.4,407.6 228.0,413.5 227.6,419.3 227.2,423.1 226.8,425.0 226.4,426.5 226.0,427.5 225.6,429.7 225.2,431.0 224.8,433.0 224.4,435.6 224.0,438.1 223.6,438.5 223.2,438.5 222.8,442.5 222.4,440.3 222.0,441.2 221.6,444.4 221.2,443.5 220.8,443.8 220.4,442.8 220.0,443.2 219.6,444.4 219.2,442.6 218.8,445.7 218.4,444.4 218.0,442.8 217.6,445.7 217.2,442.6 216.8,444.9 216.4,446.6 216.0,442.8 215.6,444.1 215.2,442.5 214.8,441.3 214.4,444.2 214.0,445.2 213.6,445.4 213.2,444.7 212.8,446.3 212.4,443.7 212.0,444.1 211.6,444.6 211.2,444.8 210.8,444.7 210.4,443.1 210.0,446.6 209.6,446.3 209.2,445.6 208.8,446.4 208.4,446.0 208.0,446.2 207.6,443.9 207.2,444.3 206.8,444.0 206.4,442.8 206.0,443.5 205.6,443.2 205.2,442.6 204.8,443.5 204.4,445.3 204.0,442.5 203.6,443.1 203.2,442.8 202.8,444.2 202.4,444.7 202.0,443.3 201.6,445.7 201.2,446.6 200.8,446.3 200.4,444.0 200.0,446.3 199.6,446.6 199.2,443.2 198.8,443.0 198.4,445.0 198.0,442.6 197.6,444.7 197.2,444.6 196.8,443.4 196.4,442.4 196.0,442.9 195.6,444.6 195.2,443.0 194.8,445.2 194.4,446.1 194.0,445.4 193.6,443.7 193.2,443.9 192.8,445.2 192.4,442.7 192.0,446.6 191.6,445.0 191.2,441.9 190.8,442.6 190.4,443.7 190.0,445.0 189.6,443.5 189.2,443.6 188.8,443.8 188.4,445.4 188.0,444.8 187.6,445.0 187.2,445.3 186.8,446.6 186.4,445.2 186.0,445.5 185.6,446.5 185.2,445.8 184.8,446.1 184.4,444.1 184.0,443.8 183.6,446.3 183.2,444.5 182.8,446.1 182.4,443.9 182.0,446.3 181.6,446.0 181.2,446.6 180.8,444.4 180.4,445.6 180.0,446.6 179.6,444.1 179.2,442.7 178.8,443.8 178.4,443.7 178.0,444.4 177.6,443.7 177.2,443.0 176.8,446.2 176.4,445.5 176.0,444.9 175.6,445.3 175.2,443.4 174.8,446.3 174.4,446.6 174.0,446.6 173.6,444.3 173.2,445.6 172.8,445.9 172.4,446.6 172.0,446.3 171.6,445.1 171.2,445.6 170.8,445.1 170.4,443.5 170.0,442.8 169.6,443.1 169.2,442.7 168.8,446.3 168.4,446.1 168.0,445.7 167.6,443.7 167.2,446.6 166.8,445.5 166.4,444.6 166.0,444.9 165.6,444.3 165.2,442.7 164.8,444.8 164.4,445.3 164.0,445.2 163.6,442.7 163.2,446.2 162.8,442.1 162.4,443.9 162.0,446.0 161.6,443.9 161.2,446.5 160.8,442.5 160.4,442.5 160.0,444.3 159.6,441.6 159.2,440.4 158.8,442.6 158.4,444.8 158.0,442.4 157.6,445.6 157.2,445.4 156.8,443.4 156.4,444.6 156.0,445.4 155.6,443.8 155.2,442.8 154.8,444.9 154.4,446.6 154.0,443.0 153.6,443.7 153.2,441.5 152.8,443.1 152.4,443.1 152.0,445.0 151.6,446.3 151.2,445.0 150.8,445.6 150.4,445.5 150.0,443.3 149.6,445.7 149.2,442.8 148.8,442.3 148.4,445.6 148.0,442.7 147.6,444.7 147.2,444.8 146.8,445.7 146.4,444.1 146.0,442.3 145.6,443.8 145.2,446.2 144.8,445.6 144.4,444.7 144.0,445.9 143.6,443.3 143.2,444.9 142.8,444.8 142.4,445.5 142.0,443.4 141.6,446.6 141.2,446.6 140.8,446.6 140.4,446.3 140.0,446.6 139.6,444.8 139.2,444.4 138.8,446.2 138.4,446.6 138.0,445.3 137.6,445.5 137.2,443.4 136.8,443.7 136.4,444.1 136.0,444.7 135.6,446.6 135.2,444.9 134.8,443.7 134.4,444.5 134.0,445.7 133.6,446.6 133.2,445.5 132.8,445.2 132.4,446.6 132.0,445.3 131.6,443.6 131.2,443.0 130.8,445.5 130.4,445.8 130.0,446.0 129.6,446.0 129.2,444.3 128.8,444.8 128.4,443.1 128.0,441.4 127.6,445.9 127.2,443.7 126.8,443.1 126.4,444.4 126.0,441.8 125.6,445.6 125.2,445.7 124.8,443.0 124.4,444.4 124.0,443.5 123.6,442.0 123.2,441.3 122.8,443.2 122.4,443.6 122.0,442.3 121.6,442.4 121.2,442.2 120.8,444.0 120.4,441.4 120.0,445.4 119.6,443.7 119.2,445.7 118.8,446.1 118.4,444.0 118.0,445.3 117.6,443.0 117.2,444.2 116.8,444.8 116.4,442.1 116.0,443.2 115.6,443.1 115.2,444.2 114.8,445.4 114.4,445.3 114.0,445.7 113.6,443.5 113.2,445.3 112.8,444.3 112.4,445.8 112.0,446.2 111.6,443.7 111.2,445.2 110.8,443.7 110.4,444.5 110.0,443.2 109.6,444.1 109.2,442.2 108.8,443.1 108.4,442.9 108.0,446.4 107.6,446.6 107.2,445.7 106.8,445.7 106.4,446.3 106.0,444.5 105.6,446.6 105.2,444.8 104.8,444.0 104.4,446.2 104.0,444.3 103.6,442.5 103.2,442.5 102.8,446.1 102.4,446.0 102.0,446.1 101.6,446.3 101.2,446.1 100.8,446.0 100.4,441.7 100.0,445.4 99.6,444.1 99.2,444.4 98.8,444.6 98.4,444.5 98.0,444.2 97.6,444.7 97.2,444.8 96.8,444.1 96.4,443.8 96.0,445.5 95.6,445.7 95.2,442.5 94.8,445.0 94.4,444.6 94.0,443.9 93.6,444.7 93.2,440.9 92.8,443.7 92.4,444.0 92.0,442.5 91.6,442.1 91.2,444.6 90.8,444.5 90.4,444.8 90.0,443.3 89.6,445.6 89.2,445.8 88.8,445.4 88.4,445.7 88.0,444.7 87.6,443.0 87.2,444.1 86.8,445.5 86.4,443.6 86.0,442.4 85.6,443.4 85.2,443.9 84.8,443.7 84.4,442.7 84.0,443.4 83.6,445.7 83.2,444.4 82.8,443.3 82.4,442.5 82.0,443.8 81.6,443.2 81.2,446.4 80.8,445.0 80.4,444.9 80.0,445.9 79.6,442.8 79.2,445.3 78.8,443.0 78.4,446.0 78.0,445.1 77.6,442.0 77.2,442.8 76.8,444.8 76.4,442.7 76.0,445.2 75.6,445.3 75.2,445.9"/>
<path class="c" stroke="#000" stroke-width="2.1" stroke-dasharray="7.2 7.65" stroke-dashoffset="14.68" d="M242.4,23.1 242.8,24.6 243.2,25.9 243.6,27.4 244.0,30.6 244.4,34.5 244.8,37.5 245.2,42.4 245.6,47.0 246.0,53.9 246.4,58.5 246.8,66.5 247.2,74.1 247.6,82.7 248.0,91.1 248.4,102.3 248.8,114.2 249.2,124.7 249.6,137.1 250.0,149.8 250.4,164.5 250.8,176.4 251.2,191.3 251.6,206.7 252.0,225.6 252.4,241.0 252.8,260.0 253.2,280.5 253.6,304.7 254.0,327.1 254.4,346.0 254.8,357.9 255.2,366.5 255.6,373.8 256.0,380.8 256.4,387.0 256.8,391.9 257.2,396.5 257.6,403.6 258.0,405.1 258.4,409.6 258.8,414.6 259.2,416.6 259.6,420.7 260.0,421.6 260.4,425.3 260.8,424.5 261.2,426.6 261.6,429.0 262.0,430.6 262.4,430.9 262.8,434.5 263.2,434.8 263.6,435.9 264.0,436.0 264.4,436.3 264.8,437.2 265.2,437.2 265.6,438.1 266.0,436.8 266.4,438.6 266.8,441.0 267.2,440.5 267.6,441.7 268.0,441.4 268.4,440.9 268.8,445.2 269.2,443.0 269.6,441.7 270.0,443.2 270.4,445.3 270.8,442.0 271.2,445.6 271.6,442.6 272.0,439.8 272.4,445.1 272.8,441.6 273.2,443.3 273.6,441.0 274.0,441.1 274.4,443.6 274.8,441.8 275.2,445.0 275.6,444.7 276.0,443.1 276.4,443.3 276.8,446.6 277.2,443.7 277.6,445.0 278.0,444.0 278.4,446.6 278.8,445.0 279.2,445.2 279.6,446.3 280.0,443.7 280.4,445.5 280.8,445.5 281.2,446.6 281.6,444.9 282.0,445.1 282.4,444.5 282.8,445.9 283.2,444.8 283.6,444.7 284.0,445.4 284.4,445.5 284.8,445.6 285.2,445.7 285.6,443.2 286.0,445.3 286.4,443.8 286.8,445.1 287.2,445.3 287.6,443.0 288.0,445.1 288.4,443.6 288.8,443.4 289.2,444.2 289.6,443.1 290.0,440.9 290.4,443.1 290.8,445.1 291.2,444.6 291.6,442.8 292.0,445.4 292.4,445.1 292.8,443.3 293.2,445.4 293.6,442.9 294.0,442.9 294.4,445.1 294.8,445.5 295.2,445.8 295.6,444.6 296.0,445.1 296.4,445.1 296.8,444.6 297.2,444.6 297.6,442.2 298.0,445.9 298.4,443.8 298.8,442.6 299.2,446.6 299.6,444.8 300.0,444.2 300.4,446.4 300.8,444.8 301.2,443.9 301.6,444.6 302.0,444.3 302.4,444.8 302.8,442.7 303.2,442.3 303.6,445.6 304.0,446.1 304.4,444.3 304.8,446.6 305.2,446.6 305.6,446.6 306.0,446.6 306.4,446.6 306.8,445.5 307.2,444.6 307.6,446.3 308.0,444.9 308.4,446.3 308.8,445.4 309.2,445.0 309.6,443.7 310.0,442.4 310.4,443.3 310.8,443.9 311.2,444.1 311.6,444.1 312.0,445.0 312.4,446.6 312.8,446.3 313.2,446.3 313.6,446.6 314.0,444.0 314.4,444.4 314.8,445.5 315.2,444.0 315.6,444.5 316.0,446.6 316.4,444.1 316.8,446.6 317.2,445.1 317.6,445.5 318.0,444.2 318.4,446.6 318.8,445.3 319.2,444.3 319.6,444.6 320.0,443.7 320.4,445.8 320.8,445.1 321.2,445.6 321.6,444.4 322.0,446.6 322.4,444.6 322.8,444.3 323.2,446.4 323.6,446.2 324.0,446.6 324.4,446.6 324.8,445.0 325.2,444.7 325.6,446.6 326.0,443.1 326.4,446.1 326.8,446.0 327.2,445.7 327.6,445.4 328.0,445.3 328.4,445.5 328.8,443.8 329.2,445.1 329.6,446.1 330.0,446.1 330.4,444.4 330.8,443.9 331.2,446.1 331.6,445.0 332.0,444.1 332.4,443.0 332.8,445.0 333.2,445.9 333.6,445.7 334.0,443.3 334.4,443.2 334.8,445.2 335.2,445.2 335.6,443.9 336.0,444.4 336.4,446.2 336.8,443.0 337.2,442.9 337.6,445.4 338.0,444.4 338.4,443.8 338.8,445.9 339.2,444.8 339.6,443.0 340.0,443.7 340.4,444.9 340.8,445.9 341.2,446.6 341.6,442.4 342.0,443.1 342.4,446.6 342.8,445.7 343.2,445.1 343.6,444.9 344.0,445.6 344.4,446.4 344.8,444.6 345.2,445.9 345.6,446.6 346.0,445.9 346.4,442.6 346.8,443.8 347.2,444.4 347.6,445.9 348.0,444.3 348.4,445.3 348.8,443.7 349.2,446.6 349.6,444.4 350.0,446.0 350.4,444.5 350.8,443.3 351.2,445.5 351.6,442.4 352.0,442.8 352.4,442.6 352.8,441.6 353.2,443.4 353.6,442.3 354.0,442.6 354.4,442.3 354.8,444.1 355.2,444.0 355.6,443.6 356.0,443.7 356.4,441.7 356.8,441.4 357.2,441.7 357.6,445.7 358.0,442.6 358.4,445.1 358.8,444.0 359.2,442.2 359.6,445.4 360.0,445.1 360.4,444.2 360.8,445.0 361.2,444.2 361.6,444.0 362.0,443.2 362.4,446.6 362.8,444.8 363.2,446.5 363.6,446.6 364.0,444.7 364.4,445.6 364.8,444.3 365.2,444.1 365.6,443.5 366.0,445.0 366.4,444.5 366.8,444.8 367.2,442.3 367.6,442.0 368.0,441.2 368.4,443.4 368.8,441.8 369.2,442.8 369.6,442.7 370.0,445.5 370.4,445.5 370.8,446.5 371.2,443.3 371.6,445.7 372.0,446.6 372.4,443.7 372.8,445.1 373.2,444.8 373.6,445.8 374.0,446.6 374.4,445.7 374.8,443.5 375.2,446.0 375.6,446.5 376.0,445.3 376.4,442.7 376.8,443.8 377.2,446.6 377.6,443.1 378.0,445.4 378.4,442.0 378.8,445.7 379.2,446.2 379.6,443.7 380.0,445.6 380.4,444.2 380.8,444.2 381.2,443.9 381.6,445.6 382.0,446.6 382.4,442.5 382.8,442.1 383.2,441.6 383.6,443.5 384.0,442.4 384.4,444.9 384.8,444.2 385.2,444.5 385.6,443.0 386.0,446.4 386.4,445.2 386.8,442.6 387.2,446.6 387.6,446.6 388.0,446.0 388.4,444.7 388.8,445.9 389.2,445.0 389.6,446.4 390.0,446.6 390.4,445.2 390.8,446.0 391.2,446.6 391.6,444.1 392.0,446.6 392.4,446.6 392.8,446.1 393.2,446.6 393.6,446.1 394.0,446.6 394.4,445.4 394.8,445.3 395.2,446.2 395.6,446.6 396.0,445.4 396.4,443.4 396.8,444.8 397.2,443.7 397.6,444.1 398.0,443.6 398.4,443.7 398.8,443.7 399.2,444.6 399.6,444.6 400.0,443.1 400.4,444.8 400.8,441.4 401.2,445.0 401.6,442.1 402.0,443.6 402.4,443.3 402.8,446.5 403.2,446.2 403.6,446.6 404.0,444.5 404.4,444.0 404.8,446.3 405.2,445.0 405.6,444.4 406.0,443.2 406.4,444.2 406.8,444.9 407.2,442.6 407.6,444.6 408.0,444.3 408.4,442.4 408.8,444.2 409.2,445.0 409.6,441.8 410.0,442.1 410.4,442.2 410.8,444.9 411.2,442.9 411.6,444.4 412.0,442.1 412.4,444.0 412.8,443.0 413.2,444.3 413.6,444.8 414.0,445.8 414.4,443.0 414.8,442.4 415.2,442.1 415.6,445.0 416.0,443.3 416.4,446.2 416.8,444.2 417.2,445.0 417.6,445.5 418.0,445.9 418.4,445.9 418.8,446.5 419.2,445.2 419.6,443.6 420.0,445.1 420.4,445.4 420.8,444.3 421.2,443.7 421.6,444.8 422.0,444.0 422.4,443.1 422.8,444.9 423.2,443.8 423.6,445.3 424.0,445.6 424.4,445.2 424.8,443.3 425.2,445.8 425.6,444.3 426.0,443.3 426.4,443.6 426.8,444.5 427.2,444.3 427.6,446.5 428.0,443.8 428.4,443.4 428.8,443.1 429.2,444.1 429.6,443.0 430.0,442.8 430.4,445.9 430.8,443.5 431.2,443.1 431.6,444.9 432.0,441.7 432.4,444.7 432.8,444.3 433.2,443.9 433.6,442.2 434.0,442.5 434.4,445.5 434.8,444.9 435.2,445.8 435.6,443.8 436.0,444.2 436.4,445.9 436.8,443.9 437.2,443.5 437.6,442.5 438.0,445.0 438.4,442.4 438.8,444.4 439.2,443.9 439.6,444.5 440.0,443.9 440.4,441.9 440.8,442.6 441.2,440.1 441.6,443.4 442.0,441.2 442.4,441.9 442.8,441.4 443.2,442.2 443.6,441.4 444.0,442.6 444.4,443.2 444.8,443.4 445.2,442.7 445.6,442.5 446.0,444.8 446.4,445.0 446.8,443.1 447.2,442.9 447.6,445.3 448.0,442.5 448.4,443.4 448.8,443.7 449.2,443.9 449.6,443.6 450.0,444.4 450.4,443.4 450.8,442.0 451.2,440.9 451.6,440.1 452.0,442.1 452.4,443.8 452.8,443.3 453.2,443.8 453.6,443.6 454.0,443.7 454.4,444.0 454.8,443.0 455.2,445.2 455.6,445.7 456.0,445.6 456.4,443.8 456.8,444.4 457.2,445.7 457.6,446.6 458.0,446.6 458.4,446.2 458.8,445.2 459.2,446.0 459.6,443.1 460.0,444.6 460.4,444.3 460.8,445.3 461.2,442.6 461.6,444.1 462.0,444.1 462.4,445.0 462.8,446.2 463.2,446.6 463.6,445.9 464.0,446.6 464.4,443.4 464.8,445.5 465.2,445.8 465.6,445.5 466.0,444.0 466.4,445.5 466.8,445.6 467.2,444.8 467.6,445.0 468.0,445.2 468.4,444.4 468.8,443.4 469.2,444.7 469.6,444.5 470.0,446.6 470.4,446.5 470.8,445.2 471.2,446.6 471.6,445.7 472.0,446.1 472.4,445.0 472.8,443.5 473.2,444.6 473.6,442.7 474.0,444.4 474.4,441.3 474.8,443.7 475.2,443.6 475.6,442.8 476.0,442.1 476.4,443.8 476.8,442.1 477.2,442.5 477.6,444.7 478.0,442.1 478.4,444.9 478.8,445.0 479.2,443.1 479.6,444.5 480.0,445.5 480.4,445.3 480.8,445.0 481.2,443.9 481.6,443.0 482.0,445.3 482.4,445.0 482.8,446.3 483.2,444.3 483.6,442.3 484.0,443.2 484.4,441.3 484.8,443.6 485.2,443.7 485.6,443.7 486.0,443.2 486.4,442.2 486.8,445.8 487.2,443.0 487.6,442.9 488.0,443.3 488.4,443.2 488.8,442.9 489.2,444.5 489.6,445.3 490.0,442.8 490.4,445.1 490.8,443.9 491.2,444.7 491.6,444.8 492.0,443.8 492.4,445.1 492.8,444.2 493.2,444.3 493.6,445.9 494.0,445.6 494.4,446.6 494.8,444.3 495.2,445.3 495.6,446.5 496.0,443.1 496.4,442.9 496.8,444.7 497.2,446.1 497.6,444.1 498.0,443.4 498.4,443.7 498.8,441.5 499.2,443.8 499.6,444.8 500.0,445.8 500.4,444.2 500.8,444.6 501.2,442.7 501.6,444.3 502.0,443.9 502.4,443.9 502.8,444.0 503.2,445.0 503.6,442.1 504.0,444.3 504.4,443.7 504.8,446.6 505.2,445.6 505.6,445.8 506.0,446.6 506.4,446.6 506.8,446.6 507.2,445.6 507.6,446.3 508.0,445.6 508.4,446.6 508.8,446.1 509.2,446.6 509.6,445.1 510.0,444.9 510.4,445.5 510.8,442.4 511.2,445.6 511.6,445.4 512.0,444.8 512.4,443.7 512.8,443.6 513.2,443.8 513.6,446.6 514.0,444.9 514.4,445.1 514.8,443.8 515.2,444.4 515.6,445.7 516.0,443.0 516.4,445.1 516.8,444.2 517.2,444.7 517.6,445.0 518.0,446.0 518.4,446.1 518.8,443.8 519.2,442.0 519.6,441.1 520.0,441.9 520.4,443.7 520.8,441.9 521.2,443.9 521.6,442.0 522.0,444.9 522.4,442.8 522.8,443.0 523.2,444.9 523.6,445.2 524.0,443.2 524.4,443.3 524.8,442.4 525.2,444.4 525.6,443.0 526.0,443.0 526.4,443.3 526.8,443.9 527.2,446.6 527.6,443.4 528.0,443.0 528.4,444.2 528.8,443.7 529.2,444.1 529.6,443.8 530.0,446.6 530.4,440.6 530.8,443.6 531.2,442.7 531.6,445.6 532.0,441.5 532.4,442.7 532.8,442.8 533.2,442.6 533.6,443.3 534.0,443.6 534.4,442.8 534.8,446.0 535.2,444.6 535.6,445.7 536.0,445.4 536.4,446.6 536.8,443.9 537.2,445.7 537.6,443.4 538.0,445.5 538.4,445.5 538.8,443.6 539.2,441.3 539.6,444.6 540.0,443.9 540.4,444.8 540.8,443.8 541.2,445.7 541.6,444.0 542.0,444.7 542.4,444.1 542.8,446.2 543.2,443.8 543.6,444.0 544.0,445.6 544.4,444.7 544.8,446.6 545.2,446.5 545.6,444.9 546.0,444.6 546.4,446.6 546.8,446.2 547.2,446.6 547.6,446.6 548.0,441.8 548.4,444.1 548.8,441.9 549.2,444.3 549.6,444.5 550.0,442.9 550.4,444.0 550.8,444.2 551.2,443.4 551.6,444.7 552.0,443.5 552.4,443.5 552.8,444.5 553.2,444.5 553.6,443.7 554.0,443.4 554.4,445.2 554.8,446.4 555.2,443.0 555.6,446.6 556.0,446.6 556.4,444.9 556.8,443.5 557.2,444.9 557.6,446.1 558.0,443.3 558.4,445.7 558.8,446.4 559.2,443.7 559.6,446.4 560.0,445.6 560.4,443.1 560.8,445.1 561.2,442.4 561.6,445.4 562.0,444.7 562.4,442.8 562.8,443.2 563.2,443.8 563.6,445.9 564.0,445.9 564.4,443.0 564.8,444.5 565.2,443.6 565.6,444.6 566.0,441.5 566.4,441.4 566.8,441.8 567.2,444.5 567.6,442.9 568.0,444.1 568.4,441.0 568.8,445.3 569.2,443.9 569.6,445.8 570.0,444.2 570.4,444.6 570.8,446.2 571.2,442.6 571.6,442.0 572.0,443.7 572.4,442.1 572.8,444.1 573.2,442.2 573.6,443.2 574.0,446.2 574.4,446.0 574.8,444.8 575.2,446.6 575.6,442.5 576.0,444.8 576.4,444.5 576.8,442.6 577.2,445.3 577.6,441.2 578.0,442.4 578.4,442.2 578.8,445.0 579.2,443.5 579.6,443.7 580.0,445.9 580.4,445.9 580.8,446.3 581.2,445.0 581.6,445.5 582.0,444.8 582.4,445.6 582.8,445.1 583.2,444.3 583.6,442.7 584.0,446.3 584.4,444.6 584.8,446.4 585.2,446.3 585.6,444.0 586.0,443.7 586.4,445.4 586.8,442.2 587.2,443.5 587.6,443.9 588.0,444.3 588.4,445.9 588.8,444.5 589.2,445.5 589.6,443.4 590.0,445.2 590.4,445.9 590.8,445.6 591.2,445.4 591.6,443.4 592.0,445.1 592.4,444.7 592.8,446.6 593.2,445.2 593.6,445.8 594.0,444.2 594.4,443.1 594.8,445.8 595.2,444.0 595.6,446.0 596.0,444.8 596.4,446.6 596.8,444.9 597.2,446.6 597.6,445.2 598.0,446.6 598.4,446.6 598.8,446.6 599.2,444.1 599.6,445.8 600.0,445.4 600.4,444.4 600.8,442.3 601.2,445.9 601.6,445.0 602.0,445.6 602.4,443.0 602.8,445.7 603.2,446.6 603.6,445.2 604.0,446.6 604.4,444.7 604.8,444.6 605.2,446.6 605.6,444.1 606.0,446.6 606.4,443.7 606.8,443.4 607.2,444.6 607.6,442.8 608.0,442.3 608.4,444.2 608.8,444.8 609.2,443.0 609.6,443.9 610.0,442.2 610.4,445.1 610.8,444.0 611.2,445.4 611.6,443.9 612.0,445.3 612.4,444.2 612.8,443.7 613.2,445.1 613.6,446.1 614.0,445.3 614.4,443.9 614.8,444.5 615.2,446.6 615.6,443.6 616.0,444.7 616.4,445.5 616.8,445.5 617.2,444.6 617.6,443.5 618.0,442.5 618.4,446.6 618.8,444.8 619.2,443.0 619.6,444.6 620.0,444.0 620.4,444.1 620.8,442.0 621.2,442.2 621.6,445.1 622.0,442.9 622.4,445.7 622.8,443.5 623.2,444.3 623.6,445.1 624.0,443.0 624.4,444.5 624.8,445.4 625.2,443.1 625.6,443.3 626.0,442.7 626.4,443.9 626.8,444.2 627.2,443.3 627.6,444.4 628.0,442.8 628.4,445.1 628.8,442.8 629.2,442.8 629.6,445.9 630.0,444.5 630.4,446.6 630.8,445.6 631.2,446.6 631.6,446.6 632.0,445.7 632.4,445.5 632.8,446.5 633.2,443.7 633.6,446.6 634.0,446.6 634.4,446.2 634.8,443.3 635.2,446.1 635.6,444.0 636.0,445.9 636.4,445.0 636.8,446.6 637.2,445.8 637.6,445.6 638.0,446.6 638.4,445.9 638.8,446.0 639.2,446.6 639.6,444.9 640.0,446.6 640.4,446.6 640.8,446.6 641.2,444.2 641.6,445.7 642.0,446.6 642.4,446.6 642.8,445.1 643.2,446.4 643.6,445.9 644.0,445.7 644.4,444.3 644.8,443.7 645.2,446.6 645.6,446.3 646.0,446.6 646.4,444.8 646.8,444.9 647.2,441.4 647.6,445.6 648.0,446.0 648.4,445.4 648.8,444.1 649.2,442.5 649.6,443.7 650.0,445.8 650.4,444.3 650.8,443.2 651.2,446.6 651.6,444.7 652.0,445.4 652.4,445.3 652.8,445.6 653.2,446.4 653.6,444.7 654.0,446.3 654.4,444.0 654.8,443.9 655.2,444.6 655.6,446.0 656.0,443.1 656.4,446.4 656.8,444.3 657.2,445.4 657.6,446.4 658.0,446.6 658.4,444.7 658.8,443.5 659.2,442.6 659.6,444.6 660.0,443.5 660.4,444.1 660.8,442.6 661.2,441.4 661.6,445.1"/>
<path class="c" stroke="#e0820a" stroke-width="2.3" stroke-dasharray="7 2.3 3.3 2.3" stroke-dashoffset="8.56" d="M320.7,32.3 320.4,33.3 320.2,33.3 319.9,34.6 319.7,36.1 319.4,36.6 319.2,37.6 318.9,38.7 318.7,41.5 318.4,41.5 318.2,43.0 317.9,45.0 317.7,46.7 317.4,50.7 317.2,52.0 316.9,54.6 316.7,57.4 316.4,60.1 316.2,63.4 315.9,68.1 315.7,72.1 315.4,76.4 315.2,82.8 314.9,87.1 314.7,92.7 314.4,98.6 314.2,105.4 313.9,110.4 313.7,115.8 313.4,123.1 313.2,131.3 312.9,143.7 312.7,154.5 312.4,171.0 312.2,188.0 311.9,201.5 311.7,217.2 311.4,229.6 311.2,239.3 310.9,253.0 310.7,262.4 310.4,276.9 310.2,290.4 309.9,303.0 309.7,314.9 309.4,327.7 309.2,339.7 308.9,351.0 308.7,360.5 308.4,367.5 308.2,376.5 307.9,384.9 307.7,386.1 307.4,391.8 307.2,394.4 306.9,399.9 306.7,396.6 306.4,402.2 306.2,402.8 305.9,408.9 305.7,413.0 305.4,417.7 305.2,419.5 304.9,418.6 304.7,424.5 304.4,429.0 304.2,426.2 303.9,430.8 303.7,430.3 303.4,430.3 303.2,431.0 302.9,436.5 302.7,436.7 302.4,437.4 302.2,438.2 301.9,435.4 301.7,435.7 301.4,438.8 301.2,441.6 300.9,442.6 300.7,440.3 300.4,439.8 300.2,441.7 299.9,442.7 299.7,439.6 299.4,441.4 299.2,441.0 298.9,442.1 298.7,443.4 298.4,443.5 298.2,442.1 297.9,441.0 297.7,441.3 297.4,443.1 297.2,443.4 296.9,442.0 296.7,446.6 296.4,443.4 296.2,441.5 295.9,441.5 295.7,441.5 295.4,443.0 295.2,443.7 294.9,441.4 294.7,443.8 294.4,446.2 294.2,441.8 293.9,445.4 293.7,441.2 293.4,442.2 293.2,441.6 292.9,442.0 292.7,442.2 292.4,443.2 292.2,443.0 291.9,442.4 291.7,440.4 291.4,440.6 291.2,443.2 290.9,444.8 290.7,441.8 290.4,441.7 290.2,441.4 289.9,442.7 289.7,445.1 289.4,441.6 289.2,442.9 288.9,442.1 288.7,445.2 288.4,442.1 288.2,440.4 287.9,442.7 287.7,444.9 287.4,445.0 287.2,440.9 286.9,444.8 286.7,444.9 286.4,440.1 286.2,445.2 285.9,445.0 285.7,441.7 285.4,440.1 285.2,442.2 284.9,443.2 284.7,445.5 284.4,441.3 284.2,442.3 283.9,441.9 283.7,445.8 283.4,440.6 283.2,440.4 282.9,443.5 282.7,445.0 282.4,443.0 282.2,444.9 281.9,438.9 281.7,445.0 281.4,439.7 281.2,445.1 280.9,441.2 280.7,441.8 280.4,443.6 280.2,445.3 279.9,444.5 279.7,442.8 279.4,444.3 279.2,441.2 278.9,442.0 278.7,441.5 278.4,443.2 278.2,443.9 277.9,443.8 277.7,444.4 277.4,443.4 277.2,445.9 276.9,439.1 276.7,443.4 276.4,446.0 276.2,446.6 275.9,444.6 275.7,443.9 275.4,446.1 275.2,440.7 274.9,442.2 274.7,439.5 274.4,442.2 274.2,442.9 273.9,446.1 273.7,443.6 273.4,444.5 273.2,442.8 272.9,446.6 272.7,440.0 272.4,446.0 272.2,442.5 271.9,442.1 271.7,443.9 271.4,443.5 271.2,440.9 270.9,445.7 270.7,446.4 270.4,441.2 270.2,444.2 269.9,441.6 269.7,443.6 269.4,443.9 269.2,439.5 268.9,443.6 268.7,441.5 268.4,443.7 268.2,446.6 267.9,443.6 267.7,445.7 267.4,444.2 267.2,444.4 266.9,443.6 266.7,444.8 266.4,440.1 266.2,444.3 265.9,441.7 265.7,441.8 265.4,439.6 265.2,443.6 264.9,446.2 264.7,446.6 264.4,446.0 264.2,444.2 263.9,440.9 263.7,441.1 263.4,442.2 263.2,445.3 262.9,446.0 262.7,444.8 262.4,444.2 262.2,444.1 261.9,441.2 261.7,444.8 261.4,445.7 261.2,446.2 260.9,438.1 260.7,439.1 260.4,442.3 260.2,442.0 259.9,446.0 259.7,443.2 259.4,441.9 259.2,440.0 258.9,444.4 258.7,443.6 258.4,441.9 258.2,441.6 257.9,443.4 257.7,440.6 257.4,443.2 257.2,443.2 256.9,439.8 256.7,443.1 256.4,441.3 256.2,439.3 255.9,443.5 255.7,443.8 255.4,440.3 255.2,446.5 254.9,445.8 254.7,446.6 254.4,441.0 254.2,441.1 253.9,440.0 253.7,444.1 253.4,440.1 253.2,440.4 252.9,445.1 252.7,440.2 252.4,442.0 252.2,443.6 251.9,441.0 251.7,443.5 251.4,444.6 251.2,442.7 250.9,442.4 250.7,436.7 250.4,440.8 250.2,440.4 249.9,440.1 249.7,439.9 249.4,439.6 249.2,445.6 248.9,446.6 248.7,441.9 248.4,442.5 248.2,442.0 247.9,440.1 247.7,442.7 247.4,441.8 247.2,445.1 246.9,444.7 246.7,442.5 246.4,441.0 246.2,443.2 245.9,444.0 245.7,444.2 245.4,440.6 245.2,445.4 244.9,445.7 244.7,442.6 244.4,443.5 244.2,443.9 243.9,442.4 243.7,442.6 243.4,440.3 243.2,446.1 242.9,444.8 242.7,444.8 242.4,446.6 242.2,444.5 241.9,442.2 241.7,446.6 241.4,445.5 241.2,444.7 240.9,443.6 240.7,443.8 240.4,441.5 240.2,443.7 239.9,443.4 239.7,443.2 239.4,443.4 239.2,444.7 238.9,443.9 238.7,443.5 238.4,443.3 238.2,440.5 237.9,441.1 237.7,441.2 237.4,441.0 237.2,443.8 236.9,444.8 236.7,443.8 236.4,444.8 236.2,442.7 235.9,445.1 235.7,443.7 235.4,445.3 235.2,443.3 234.9,442.7 234.7,443.6 234.4,446.1 234.2,442.7 233.9,446.6 233.7,444.7 233.4,443.0 233.2,443.6 232.9,442.6 232.7,444.1 232.4,442.6 232.2,442.9 231.9,443.4 231.7,443.7 231.4,441.2 231.2,446.6 230.9,445.4 230.7,443.8 230.4,442.4 230.2,445.5 229.9,446.6 229.7,441.8 229.4,444.4 229.2,441.8 228.9,446.2 228.7,443.1 228.4,444.3 228.2,445.0 227.9,442.7 227.7,442.0 227.4,444.9 227.2,440.3 226.9,444.5 226.7,444.0 226.4,440.6 226.2,441.2 225.9,445.5 225.7,441.6 225.4,446.1 225.2,441.9 224.9,443.8 224.7,445.6 224.4,445.5 224.2,446.1 223.9,446.6 223.7,443.6 223.4,444.1 223.2,440.9 222.9,443.4 222.7,442.0 222.4,446.0 222.2,444.2 221.9,441.3 221.7,441.0 221.4,446.2 221.2,441.7 220.9,441.1 220.7,443.8 220.4,441.6 220.2,446.1 219.9,441.3 219.7,444.0 219.4,442.2 219.2,444.2 218.9,440.3 218.7,443.2 218.4,444.5 218.2,446.3 217.9,446.4 217.7,442.9 217.4,443.4 217.2,446.0 216.9,443.3 216.7,443.0 216.4,443.4 216.2,443.4 215.9,445.3 215.7,446.6 215.4,441.5 215.2,442.0 214.9,442.6 214.7,442.0 214.4,444.2 214.2,444.0 213.9,442.6 213.7,442.5 213.4,442.9 213.2,445.4 212.9,445.1 212.7,445.9 212.4,444.0 212.2,441.8 211.9,445.0 211.7,443.3 211.4,446.1 211.2,443.1 210.9,436.5 210.7,442.5 210.4,445.7 210.2,442.4 209.9,446.2 209.7,441.9 209.4,446.6 209.2,439.5 208.9,444.6 208.7,441.4 208.4,441.7 208.2,444.3 207.9,446.6 207.7,440.4 207.4,441.8 207.2,441.0 206.9,445.3 206.7,444.2 206.4,444.5 206.2,442.2 205.9,442.8 205.7,442.8 205.4,446.6 205.2,444.8 204.9,444.9 204.7,445.8 204.4,445.1 204.2,441.5 203.9,445.7 203.7,442.5 203.4,446.6 203.2,442.8 202.9,445.5 202.7,444.8 202.4,446.6 202.2,440.0 201.9,445.5 201.7,441.0 201.4,441.8 201.2,443.5 200.9,445.4 200.7,446.6 200.4,442.5 200.2,445.0 199.9,442.1 199.7,446.6 199.4,446.6 199.2,444.5 198.9,443.7 198.7,444.2 198.4,445.3 198.2,441.2 197.9,446.2 197.7,442.1 197.4,443.5 197.2,439.0 196.9,441.0 196.7,443.8 196.4,441.1 196.2,443.2 195.9,443.1 195.7,439.0 195.4,444.2 195.2,444.7 194.9,444.7 194.7,440.5 194.4,446.5 194.2,446.6 193.9,446.0 193.7,444.0 193.4,444.7 193.2,442.3 192.9,439.6 192.7,446.6 192.4,444.9 192.2,446.1 191.9,441.6 191.7,443.0 191.4,442.6 191.2,442.6 190.9,446.4 190.7,443.2 190.4,439.3 190.2,443.9 189.9,442.1 189.7,443.7 189.4,446.3 189.2,442.4 188.9,442.4 188.7,442.7 188.4,446.5 188.2,446.6 187.9,446.5 187.7,446.6 187.4,444.6 187.2,442.7 186.9,445.0 186.7,446.6 186.4,446.1 186.2,440.3 185.9,443.7 185.7,443.0 185.4,443.7 185.2,440.4 184.9,442.3 184.7,441.4 184.4,443.2 184.2,446.6 183.9,443.0 183.7,442.7 183.4,443.8 183.2,442.6 182.9,446.6 182.7,442.5 182.4,444.2 182.2,446.2 181.9,446.6 181.7,446.0 181.4,442.7 181.2,443.1 180.9,445.6 180.7,446.6 180.4,442.4 180.2,443.1 179.9,440.8 179.7,442.8 179.4,445.3 179.2,443.4 178.9,446.6 178.7,444.3 178.4,444.8 178.2,439.2 177.9,446.5 177.7,441.3 177.4,445.6 177.2,443.8 176.9,444.9 176.7,443.9 176.4,442.6 176.2,445.4 175.9,441.7 175.7,442.5 175.4,443.5 175.2,442.7 174.9,446.0 174.7,443.5 174.4,442.1 174.2,442.3 173.9,446.6 173.7,445.1 173.4,444.0 173.2,441.3 172.9,445.2 172.7,443.4 172.4,445.0 172.2,440.5 171.9,443.2 171.7,441.8 171.4,441.6 171.2,444.5 170.9,442.2 170.7,443.7 170.4,442.2 170.2,441.3 169.9,441.5 169.7,445.7 169.4,446.1 169.2,443.5 168.9,444.5 168.7,441.0 168.4,445.5 168.2,445.4 167.9,443.1 167.7,445.2 167.4,443.4 167.2,446.6 166.9,442.6 166.7,443.0 166.4,444.1 166.2,439.9 165.9,442.5 165.7,441.1 165.4,443.2 165.2,441.6 164.9,442.5 164.7,446.6 164.4,442.2 164.2,444.1 163.9,441.4 163.7,446.0 163.4,444.3 163.2,443.5 162.9,442.7 162.7,441.2 162.4,445.6 162.2,443.1 161.9,446.6 161.7,446.6 161.4,442.5 161.2,443.3 160.9,443.7 160.7,443.6 160.4,445.0 160.2,443.2 159.9,444.9 159.7,443.1 159.4,446.6 159.2,446.0 158.9,445.1 158.7,442.8 158.4,445.6 158.2,443.4 157.9,442.6 157.7,445.5 157.4,442.2 157.2,442.5 156.9,445.9 156.7,444.1 156.4,442.0 156.2,441.0 155.9,443.3 155.7,444.5 155.4,443.9 155.2,442.1 154.9,443.2 154.7,445.8 154.4,441.7 154.2,446.2 153.9,441.8 153.7,444.2 153.4,443.4 153.2,441.9 152.9,439.5 152.7,445.1 152.4,441.2 152.2,443.3 151.9,444.2 151.7,446.4 151.4,442.8 151.2,441.2 150.9,440.1 150.7,440.1 150.4,444.9 150.2,444.4 149.9,440.7 149.7,442.3 149.4,440.4 149.2,443.2 148.9,443.6 148.7,442.4 148.4,446.6 148.2,446.0 147.9,442.1 147.7,443.6 147.4,442.3 147.2,446.6 146.9,445.8 146.7,446.1 146.4,444.4 146.2,446.6 145.9,442.8 145.7,446.6 145.4,442.9 145.2,444.4 144.9,442.0 144.7,443.8 144.4,443.2 144.2,442.2 143.9,444.2 143.7,441.9 143.4,445.1 143.2,444.1 142.9,441.3 142.7,446.3 142.4,445.4 142.2,441.2 141.9,444.5 141.7,441.9 141.4,445.5 141.2,443.0 140.9,439.8 140.7,443.9 140.4,446.2 140.2,446.2 139.9,446.2 139.7,444.2 139.4,446.6 139.2,441.3 138.9,441.5 138.7,442.4 138.4,443.5 138.2,443.2 137.9,446.2 137.7,445.4 137.4,444.6 137.2,446.6 136.9,445.0 136.7,441.2 136.4,444.2 136.2,441.5 135.9,440.8 135.7,442.0 135.4,441.7 135.2,440.6 134.9,444.1 134.7,443.2 134.4,444.0 134.2,441.5 133.9,442.9 133.7,446.0 133.4,443.3 133.2,446.4 132.9,446.6 132.7,442.6 132.4,445.9 132.2,445.3 131.9,442.1 131.7,441.9 131.4,445.2 131.2,442.7 130.9,445.6 130.7,446.4 130.4,442.3 130.2,442.3 129.9,442.8 129.7,445.9 129.4,445.6 129.2,444.3 128.9,442.8 128.7,446.0 128.4,441.8 128.2,442.0 128.0,443.2 127.7,446.1 127.5,443.2 127.2,442.7 127.0,443.0 126.7,445.9 126.5,443.8 126.2,444.0 126.0,443.1 125.7,446.0 125.5,441.5 125.2,442.1 125.0,444.0 124.7,445.3 124.5,445.3 124.2,444.0 124.0,442.0 123.7,445.9 123.5,444.8 123.2,445.4 123.0,444.9 122.7,443.9 122.5,446.6 122.2,443.4 122.0,446.5 121.7,442.5 121.5,444.8 121.2,441.1 121.0,443.0 120.7,440.6 120.5,443.1 120.2,444.0 120.0,443.5 119.7,442.1 119.5,439.6 119.2,442.0 119.0,446.1 118.7,444.6 118.5,442.7 118.2,442.2 118.0,440.1 117.7,444.0 117.5,445.2 117.2,442.5 117.0,441.6 116.7,445.6 116.5,442.1 116.2,442.4 116.0,445.0 115.7,444.3 115.5,442.6 115.2,445.3 115.0,443.6 114.7,444.6 114.5,441.6 114.2,443.8 114.0,443.0 113.7,445.6 113.5,442.7 113.2,442.8 113.0,441.1 112.7,442.0 112.5,442.9 112.2,446.6 112.0,445.9 111.7,445.0 111.5,444.7 111.2,442.0 111.0,443.4 110.7,443.7 110.5,443.2 110.2,443.7 110.0,441.1 109.7,441.5 109.5,441.7 109.2,440.9 109.0,441.7 108.7,444.3 108.5,442.6 108.2,444.4 108.0,440.1 107.7,445.8 107.5,441.7 107.2,446.0 107.0,443.0 106.7,445.4 106.5,446.1 106.2,446.4 106.0,445.2 105.7,440.9 105.5,446.6 105.2,441.1 105.0,442.1 104.7,441.9 104.5,445.6 104.2,446.6 104.0,446.6 103.7,441.8 103.5,442.5 103.2,446.0 103.0,441.6 102.7,442.8 102.5,440.5 102.2,441.3 102.0,445.5 101.7,446.5 101.5,443.7 101.2,441.8 101.0,440.9 100.7,441.6 100.5,441.4 100.2,443.3 100.0,445.7 99.7,441.9 99.5,442.5 99.2,441.9 99.0,443.3 98.7,443.0 98.5,445.7 98.2,446.6 98.0,441.9 97.7,442.3 97.5,441.0 97.2,445.6 97.0,439.1 96.7,445.2 96.5,445.0 96.2,443.3 96.0,445.6 95.7,446.1 95.5,446.6 95.2,445.2 95.0,441.9 94.7,445.8 94.5,442.8 94.2,444.6 94.0,442.7 93.7,446.4 93.5,441.4 93.2,440.7 93.0,446.6 92.7,446.0 92.5,441.5 92.2,441.9 92.0,443.7 91.7,445.7 91.5,446.6 91.2,446.6 91.0,445.1 90.7,442.3 90.5,441.9 90.2,445.7 90.0,441.6 89.7,443.0 89.5,446.6 89.2,441.7 89.0,441.1 88.7,441.3 88.5,446.3 88.2,442.8 88.0,444.6 87.7,442.9 87.5,442.4 87.2,444.5 87.0,440.4 86.7,445.5 86.5,444.8 86.2,441.6 86.0,445.9 85.7,445.2 85.5,441.8 85.2,440.5 85.0,444.6 84.7,444.8 84.5,443.7 84.2,440.5 84.0,443.7 83.7,445.7 83.5,444.3 83.2,445.7 83.0,442.1 82.7,443.1 82.5,445.0 82.2,441.9 82.0,441.8 81.7,442.7 81.5,446.6 81.2,442.4 81.0,446.2 80.7,442.9 80.5,442.4 80.2,445.5 80.0,445.9 79.7,442.4 79.5,443.4 79.2,442.2 79.0,443.1 78.7,440.5 78.5,444.3 78.2,440.7 78.0,441.6 77.7,445.4 77.5,443.6 77.2,445.2 77.0,442.9 76.7,441.0 76.5,445.7 76.2,446.6 76.0,440.9 75.7,444.8 75.5,446.0 75.2,446.2"/>
<path class="c" stroke="#e0820a" stroke-width="2.3" stroke-dasharray="7 2.3 3.3 2.3" stroke-dashoffset="10.89" d="M320.7,32.3 320.9,33.8 321.2,33.9 321.4,33.8 321.7,36.4 321.9,37.9 322.2,38.9 322.4,40.2 322.7,41.7 322.9,42.7 323.2,45.5 323.4,46.7 323.7,48.9 323.9,51.1 324.2,54.6 324.4,58.1 324.7,61.4 324.9,64.8 325.2,70.6 325.4,76.0 325.7,80.4 325.9,86.4 326.2,93.2 326.4,100.5 326.7,111.0 326.9,120.8 327.2,132.6 327.4,144.3 327.7,155.6 327.9,162.3 328.2,170.2 328.4,179.4 328.7,187.6 328.9,196.6 329.2,209.8 329.4,221.0 329.7,233.2 329.9,250.2 330.2,264.7 330.4,276.6 330.7,290.2 330.9,298.4 331.2,307.0 331.4,312.8 331.7,318.0 331.9,328.0 332.2,329.3 332.4,335.3 332.7,341.4 332.9,348.3 333.2,357.9 333.4,366.8 333.7,370.9 333.9,377.5 334.2,385.1 334.4,389.5 334.7,398.7 334.9,398.4 335.2,402.0 335.4,405.8 335.7,406.9 335.9,403.8 336.2,406.6 336.4,406.3 336.7,410.4 336.9,410.7 337.2,412.8 337.4,412.1 337.7,414.2 337.9,417.3 338.2,413.3 338.4,419.8 338.7,419.1 338.9,416.2 339.2,419.4 339.4,424.6 339.7,423.3 339.9,426.6 340.2,428.2 340.4,426.2 340.7,427.3 340.9,430.2 341.2,427.2 341.4,433.2 341.7,432.3 341.9,429.9 342.2,431.2 342.4,434.9 342.7,437.2 342.9,437.6 343.2,434.1 343.4,434.2 343.7,432.3 343.9,438.8 344.2,435.8 344.4,435.2 344.7,439.6 344.9,437.0 345.2,438.4 345.4,438.7 345.7,441.5 345.9,439.6 346.2,437.5 346.4,443.6 346.7,444.3 346.9,441.3 347.2,438.0 347.4,440.9 347.7,438.7 347.9,440.9 348.2,443.2 348.4,441.2 348.7,439.5 348.9,438.7 349.2,442.6 349.4,438.6 349.7,443.8 349.9,442.3 350.2,440.6 350.4,440.5 350.7,443.9 350.9,445.5 351.2,442.1 351.4,445.6 351.7,443.5 351.9,441.1 352.2,440.6 352.4,441.9 352.7,445.4 352.9,445.1 353.2,440.8 353.4,443.3 353.7,444.1 353.9,442.5 354.2,442.9 354.4,441.6 354.7,443.5 354.9,441.3 355.2,444.6 355.4,440.6 355.7,444.6 355.9,443.5 356.2,444.3 356.4,442.3 356.7,440.7 356.9,446.6 357.2,441.8 357.4,443.4 357.7,444.7 357.9,445.0 358.2,442.0 358.4,443.9 358.7,446.0 358.9,439.6 359.2,443.5 359.4,441.0 359.7,444.4 359.9,442.0 360.2,443.0 360.4,441.7 360.7,443.4 360.9,441.6 361.2,440.4 361.4,444.8 361.7,440.3 361.9,442.4 362.2,440.9 362.4,442.4 362.7,445.2 362.9,441.5 363.2,441.5 363.4,440.6 363.7,444.7 363.9,442.9 364.2,441.3 364.4,441.1 364.7,443.7 364.9,445.4 365.2,445.9 365.4,441.1 365.7,441.1 365.9,444.4 366.2,445.6 366.4,445.7 366.7,441.2 366.9,445.5 367.2,446.2 367.4,444.3 367.7,443.6 367.9,445.4 368.2,442.4 368.4,440.7 368.7,442.4 368.9,441.8 369.2,445.6 369.4,442.2 369.7,446.6 369.9,445.1 370.2,443.5 370.4,442.7 370.7,444.9 370.9,444.7 371.2,441.3 371.4,444.2 371.7,445.1 371.9,444.5 372.2,444.0 372.4,442.4 372.7,442.8 372.9,441.3 373.2,441.5 373.4,443.8 373.7,442.1 373.9,444.1 374.2,443.7 374.4,445.4 374.7,445.7 374.9,445.9 375.2,442.0 375.4,440.4 375.7,445.5 375.9,443.2 376.2,445.2 376.4,444.1 376.7,446.6 376.9,441.7 377.2,441.2 377.4,444.1 377.7,441.5 377.9,444.7 378.2,445.0 378.4,443.8 378.7,441.2 378.9,445.7 379.2,440.6 379.4,445.6 379.7,445.4 379.9,442.1 380.2,446.2 380.4,441.9 380.7,442.3 380.9,445.0 381.2,446.4 381.4,446.5 381.7,445.5 381.9,441.6 382.2,445.1 382.4,445.5 382.7,446.6 382.9,442.1 383.2,442.5 383.4,445.3 383.7,442.8 383.9,443.3 384.2,445.7 384.4,441.9 384.7,443.0 384.9,442.1 385.2,444.6 385.4,446.6 385.7,441.2 385.9,441.9 386.2,444.7 386.4,441.2 386.7,442.4 386.9,442.8 387.2,446.2 387.4,440.8 387.7,442.9 387.9,443.8 388.2,441.8 388.4,440.4 388.7,442.6 388.9,440.4 389.2,443.2 389.4,443.7 389.7,444.0 389.9,444.5 390.2,443.8 390.4,443.7 390.7,446.3 390.9,439.7 391.2,440.6 391.4,442.1 391.7,444.0 391.9,441.6 392.2,443.5 392.4,442.4 392.7,442.8 392.9,443.4 393.2,444.4 393.4,440.6 393.7,443.9 393.9,442.2 394.2,444.1 394.4,443.7 394.7,442.1 394.9,444.5 395.2,443.9 395.4,444.9 395.7,444.2 395.9,442.3 396.2,441.3 396.4,441.3 396.7,446.6 396.9,442.9 397.2,445.9 397.4,440.1 397.7,442.8 397.9,446.6 398.2,439.2 398.4,444.1 398.7,444.9 398.9,444.4 399.2,443.4 399.4,440.9 399.7,445.5 399.9,443.2 400.2,445.0 400.4,442.8 400.7,441.8 400.9,443.8 401.2,440.5 401.4,444.7 401.7,443.7 401.9,441.8 402.2,444.8 402.4,440.7 402.7,444.2 402.9,445.4 403.2,445.8 403.4,443.0 403.7,442.6 403.9,444.9 404.2,446.1 404.4,446.3 404.7,446.6 404.9,444.7 405.2,446.0 405.4,442.0 405.7,440.2 405.9,444.0 406.2,445.5 406.4,444.3 406.7,441.8 406.9,440.9 407.2,440.3 407.4,444.1 407.7,446.6 407.9,442.3 408.2,443.7 408.4,441.6 408.7,443.6 408.9,445.3 409.2,444.5 409.4,442.4 409.7,440.2 409.9,441.9 410.2,440.4 410.4,443.6 410.7,441.4 410.9,441.1 411.2,436.0 411.4,443.6 411.7,440.9 411.9,443.4 412.2,441.6 412.4,445.5 412.7,441.2 412.9,445.4 413.2,442.8 413.4,442.8 413.7,440.7 413.9,441.8 414.2,446.6 414.4,445.2 414.7,442.2 414.9,441.6 415.2,443.5 415.4,444.8 415.7,446.6 415.9,445.5 416.2,446.6 416.4,442.6 416.7,441.6 416.9,442.4 417.2,443.6 417.4,442.2 417.7,442.8 417.9,445.1 418.2,442.2 418.4,445.0 418.7,444.4 418.9,441.6 419.2,442.7 419.4,443.5 419.7,442.1 419.9,444.3 420.2,443.4 420.4,444.8 420.7,443.9 420.9,444.8 421.2,442.4 421.4,444.9 421.7,443.1 421.9,443.7 422.2,443.7 422.4,442.1 422.7,444.7 422.9,443.4 423.2,444.6 423.4,443.0 423.7,444.6 423.9,441.2 424.2,440.8 424.4,442.7 424.7,440.7 424.9,446.1 425.2,445.7 425.4,445.0 425.7,442.6 425.9,444.6 426.2,445.4 426.4,442.3 426.7,440.7 426.9,446.2 427.2,445.8 427.4,437.2 427.7,441.1 427.9,444.9 428.2,444.7 428.4,444.1 428.7,442.8 428.9,441.6 429.2,441.7 429.4,446.6 429.7,443.8 429.9,444.7 430.2,446.1 430.4,445.9 430.7,443.9 430.9,442.0 431.2,445.8 431.4,442.0 431.7,446.5 431.9,445.3 432.2,444.1 432.4,446.6 432.7,446.1 432.9,445.3 433.2,443.1 433.4,445.7 433.7,444.0 433.9,446.2 434.2,445.5 434.4,442.4 434.7,445.2 434.9,443.0 435.2,441.4 435.4,445.1 435.7,445.5 435.9,441.3 436.2,444.1 436.4,444.6 436.7,443.1 436.9,444.5 437.2,442.7 437.4,443.4 437.7,445.2 437.9,440.5 438.2,443.4 438.4,444.0 438.7,444.1 438.9,445.7 439.2,442.7 439.4,440.5 439.7,444.2 439.9,439.9 440.2,444.7 440.4,444.9 440.7,441.0 440.9,444.8 441.2,440.2 441.4,446.5 441.7,440.4 441.9,440.7 442.2,442.1 442.4,442.8 442.7,439.4 442.9,440.6 443.2,441.6 443.4,443.6 443.7,444.9 443.9,446.6 444.2,446.5 444.4,442.4 444.7,442.7 444.9,444.5 445.2,442.5 445.4,444.6 445.7,443.9 445.9,444.7 446.2,442.3 446.4,440.7 446.7,444.1 446.9,442.7 447.2,444.4 447.4,442.2 447.7,442.1 447.9,445.0 448.2,444.4 448.4,439.6 448.7,442.4 448.9,444.4 449.2,441.1 449.4,443.4 449.7,442.2 449.9,443.1 450.2,442.8 450.4,443.1 450.7,443.4 450.9,441.5 451.2,442.5 451.4,442.0 451.7,446.4 451.9,440.4 452.2,441.1 452.4,439.7 452.7,441.1 452.9,444.4 453.2,444.5 453.4,446.1 453.7,446.4 453.9,444.5 454.2,441.0 454.4,441.7 454.7,441.4 454.9,443.6 455.2,441.6 455.4,446.6 455.7,444.6 455.9,444.6 456.2,445.1 456.4,441.4 456.7,440.8 456.9,442.6 457.2,442.9 457.4,440.3 457.7,442.2 457.9,441.4 458.2,442.9 458.4,437.4 458.7,444.0 458.9,444.4 459.2,444.9 459.4,440.4 459.7,442.0 459.9,444.9 460.2,444.1 460.4,439.0 460.7,439.4 460.9,442.7 461.2,444.2 461.4,443.2 461.7,442.1 461.9,441.1 462.2,443.4 462.4,446.6 462.7,442.5 462.9,445.8 463.2,439.7 463.4,446.6 463.7,444.1 463.9,446.6 464.2,444.9 464.4,443.0 464.7,444.4 464.9,443.8 465.2,446.6 465.4,444.7 465.7,440.4 465.9,444.2 466.2,443.5 466.4,445.0 466.7,443.8 466.9,443.4 467.2,442.5 467.4,440.9 467.7,443.3 467.9,445.5 468.2,442.4 468.4,443.4 468.7,446.6 468.9,445.7 469.2,442.5 469.4,440.1 469.7,444.7 469.9,445.9 470.2,442.7 470.4,441.0 470.7,442.0 470.9,446.6 471.2,446.6 471.4,441.8 471.7,443.7 471.9,443.0 472.2,442.6 472.4,442.4 472.7,443.1 472.9,441.6 473.2,443.3 473.4,442.9 473.7,445.9 473.9,441.7 474.2,441.6 474.4,444.7 474.7,443.0 474.9,441.9 475.2,443.7 475.4,442.2 475.7,445.4 475.9,442.3 476.2,445.2 476.4,440.9 476.7,445.0 476.9,441.6 477.2,445.8 477.4,444.8 477.7,445.5 477.9,444.8 478.2,444.3 478.4,445.3 478.7,443.7 478.9,440.5 479.2,442.7 479.4,445.0 479.7,441.3 479.9,441.5 480.2,445.5 480.4,444.2 480.7,445.6 480.9,444.7 481.2,442.5 481.4,442.5 481.7,443.2 481.9,441.9 482.2,442.7 482.4,443.4 482.7,443.8 482.9,446.6 483.2,445.7 483.4,445.7 483.7,441.6 483.9,442.5 484.2,440.3 484.4,442.0 484.7,443.4 484.9,440.7 485.2,443.0 485.4,445.6 485.7,443.0 485.9,440.6 486.2,444.7 486.4,440.6 486.7,446.0 486.9,442.1 487.2,444.5 487.4,443.7 487.7,439.8 487.9,444.7 488.2,443.7 488.4,439.7 488.7,442.8 488.9,442.5 489.2,441.2 489.4,441.5 489.7,443.5 489.9,444.8 490.2,445.3 490.4,440.8 490.7,443.2 490.9,442.9 491.2,440.6 491.4,444.8 491.7,442.2 491.9,443.7 492.2,440.5 492.4,445.6 492.7,443.7 492.9,443.6 493.2,442.0 493.4,444.0 493.7,439.8 493.9,445.0 494.2,446.6 494.4,446.0 494.7,445.4 494.9,443.5 495.2,444.7 495.4,444.6 495.7,443.4 495.9,446.6 496.2,442.8 496.4,443.5 496.7,445.0 496.9,446.5 497.2,445.8 497.4,442.5 497.7,444.7 497.9,443.1 498.2,442.8 498.4,446.6 498.7,444.6 498.9,446.6 499.2,442.3 499.4,445.2 499.7,444.9 499.9,441.2 500.2,442.3 500.4,442.3 500.7,444.2 500.9,441.5 501.2,443.9 501.4,445.5 501.7,442.8 501.9,440.8 502.2,441.3 502.4,441.7 502.7,443.4 502.9,444.5 503.2,446.6 503.4,443.5 503.7,442.6 503.9,443.5 504.2,445.5 504.4,444.7 504.7,445.0 504.9,442.5 505.2,443.9 505.4,444.7 505.7,438.2 505.9,443.9 506.2,445.6 506.4,445.7 506.7,445.3 506.9,441.4 507.2,445.9 507.4,440.4 507.7,444.2 507.9,440.3 508.2,440.7 508.4,442.7 508.7,445.3 508.9,443.9 509.2,441.0 509.4,443.8 509.7,442.9 509.9,440.8 510.2,440.2 510.4,445.3 510.7,439.7 510.9,443.7 511.2,444.4 511.4,440.1 511.7,445.7 511.9,444.9 512.2,442.7 512.5,444.7 512.7,444.3 513.0,442.1 513.2,443.0 513.5,445.9 513.7,440.7 514.0,439.6 514.2,442.9 514.5,442.6 514.7,442.7 515.0,444.7 515.2,443.5 515.5,440.5 515.7,443.2 516.0,443.5 516.2,445.2 516.5,442.7 516.7,444.2 517.0,440.3 517.2,445.8 517.5,437.2 517.7,442.6 518.0,446.6 518.2,446.4 518.5,443.2 518.7,444.6 519.0,443.8 519.2,440.2 519.5,440.3 519.7,442.7 520.0,442.6 520.2,442.6 520.5,442.6 520.7,446.2 521.0,443.0 521.2,445.0 521.5,444.5 521.7,441.3 522.0,441.4 522.2,444.3 522.5,445.3 522.7,444.1 523.0,441.4 523.2,442.1 523.5,441.8 523.7,443.9 524.0,444.5 524.2,443.7 524.5,441.4 524.7,443.5 525.0,443.0 525.2,440.6 525.5,440.6 525.7,441.5 526.0,443.2 526.2,442.9 526.5,442.3 526.7,444.6 527.0,443.8 527.2,443.6 527.5,441.1 527.7,445.3 528.0,442.2 528.2,445.3 528.5,445.6 528.7,443.3 529.0,444.5 529.2,442.2 529.5,445.1 529.7,441.0 530.0,440.3 530.2,444.7 530.5,444.6 530.7,442.6 531.0,444.7 531.2,446.6 531.5,442.5 531.7,445.3 532.0,442.6 532.2,442.8 532.5,445.6 532.7,443.5 533.0,440.7 533.2,445.4 533.5,445.5 533.7,444.9 534.0,441.7 534.2,445.6 534.5,443.3 534.7,444.6 535.0,443.3 535.2,443.5 535.5,446.4 535.7,441.8 536.0,445.8 536.2,441.7 536.5,445.9 536.7,443.9 537.0,442.5 537.2,444.8 537.5,444.1 537.7,444.5 538.0,443.6 538.2,441.8 538.5,440.6 538.7,446.6 539.0,446.2 539.2,446.2 539.5,442.8 539.7,439.7 540.0,441.0 540.2,441.1 540.5,441.4 540.7,443.1 541.0,441.5 541.2,446.0 541.5,442.7 541.7,442.2 542.0,443.3 542.2,441.8 542.5,442.6 542.7,445.1 543.0,442.5 543.2,443.5 543.5,445.5 543.7,444.7 544.0,446.6 544.2,443.1 544.5,445.4 544.7,446.3 545.0,441.5 545.2,446.6 545.5,441.1 545.7,440.7 546.0,442.3 546.2,443.0 546.5,444.0 546.7,442.9 547.0,441.2 547.2,446.3 547.5,444.8 547.7,446.5 548.0,443.1 548.2,443.6 548.5,445.2 548.7,442.1 549.0,443.2 549.2,446.3 549.5,442.4 549.7,443.8 550.0,443.5 550.2,443.9 550.5,444.2 550.7,442.9 551.0,444.9 551.2,444.0 551.5,444.0 551.7,443.6 552.0,442.4 552.2,444.5 552.5,440.2 552.7,440.2 553.0,442.6 553.2,444.3 553.5,444.9 553.7,440.9 554.0,440.8 554.2,444.3 554.5,444.1 554.7,445.8 555.0,440.6 555.2,442.7 555.5,443.1 555.7,444.4 556.0,443.9 556.2,441.8 556.5,445.2 556.7,444.2 557.0,441.5 557.2,446.0 557.5,441.6 557.7,445.2 558.0,442.8 558.2,445.0 558.5,445.2 558.7,441.7 559.0,444.5 559.2,446.0 559.5,444.7 559.7,442.0 560.0,439.9 560.2,441.4 560.5,443.4 560.7,445.0 561.0,444.2 561.2,445.1 561.5,443.1 561.7,445.9 562.0,443.4 562.2,443.2 562.5,446.0 562.7,444.6 563.0,445.1 563.2,443.1 563.5,444.8 563.7,441.4 564.0,445.9 564.2,442.6 564.5,445.6 564.7,442.4 565.0,442.3 565.2,442.1 565.5,442.9 565.7,445.7 566.0,442.2 566.2,440.8 566.5,442.6 566.7,442.1 567.0,443.7 567.2,445.9 567.5,444.4 567.7,443.2 568.0,444.8 568.2,443.6 568.5,441.3 568.7,442.9 569.0,444.1 569.2,443.5 569.5,443.4 569.7,441.8 570.0,444.9 570.2,444.2 570.5,441.4 570.7,445.5 571.0,441.1 571.2,444.0 571.5,442.3 571.7,444.2 572.0,444.3 572.2,445.2 572.5,444.1 572.7,444.7 573.0,442.5 573.2,444.5 573.5,441.1 573.7,443.7 574.0,442.8 574.2,441.0 574.5,445.4 574.7,443.9 575.0,443.9 575.2,445.6 575.5,445.2 575.7,441.2 576.0,443.7 576.2,445.6 576.5,436.9 576.7,441.1 577.0,442.0 577.2,445.6 577.5,439.0 577.7,441.6 578.0,440.1 578.2,440.9 578.5,440.1 578.7,442.6 579.0,443.2 579.2,441.8 579.5,445.4 579.7,442.5 580.0,443.0 580.2,442.4 580.5,443.3 580.7,444.8 581.0,444.3 581.2,442.2 581.5,446.3 581.7,446.6 582.0,444.4 582.2,446.0 582.5,442.1 582.7,446.2 583.0,445.4 583.2,443.6 583.5,441.2 583.7,444.2 584.0,445.0 584.2,444.3 584.5,445.2 584.7,443.2 585.0,444.3 585.2,445.0 585.5,445.6 585.7,442.4 586.0,444.8 586.2,443.0 586.5,441.1 586.7,445.9 587.0,441.8 587.2,441.5 587.5,443.5 587.7,445.6 588.0,441.1 588.2,442.6 588.5,442.0 588.7,443.5 589.0,446.6 589.2,445.8 589.5,443.9 589.7,444.0 590.0,442.5 590.2,443.5 590.5,440.2 590.7,440.2 591.0,441.4 591.2,444.4 591.5,443.4 591.7,441.5 592.0,441.3 592.2,444.2 592.5,445.1 592.7,445.9 593.0,445.0 593.2,441.0 593.5,442.7 593.7,445.6 594.0,441.1 594.2,443.3 594.5,446.4 594.7,445.4 595.0,445.0 595.2,442.1 595.5,440.7 595.7,445.8 596.0,446.6 596.2,444.3 596.5,442.5 596.7,441.9 597.0,442.2 597.2,444.3 597.5,445.3 597.7,441.8 598.0,443.6 598.2,440.4 598.5,445.7 598.7,442.7 599.0,444.0 599.2,441.8 599.5,441.3 599.7,446.1 600.0,445.9 600.2,443.4 600.5,445.8 600.7,442.4 601.0,443.2 601.2,443.3 601.5,441.3 601.7,441.7 602.0,443.4 602.2,445.7 602.5,441.8 602.7,442.4 603.0,445.8 603.2,443.4 603.5,444.9 603.7,442.1 604.0,440.6 604.2,442.8 604.5,443.6 604.7,445.5 605.0,441.9 605.2,440.7 605.5,441.9 605.7,445.5 606.0,445.1 606.2,444.3 606.5,445.3 606.7,444.5 607.0,442.3 607.2,443.3 607.5,440.6 607.7,443.9 608.0,444.9 608.2,441.2 608.5,442.3 608.7,443.3 609.0,445.9 609.2,446.6 609.5,444.1 609.7,441.9 610.0,440.5 610.2,444.1 610.5,440.7 610.7,441.2 611.0,441.4 611.2,441.1 611.5,442.7 611.7,444.0 612.0,444.6 612.2,445.5 612.5,446.0 612.7,441.4 613.0,444.2 613.2,445.9 613.5,443.8 613.7,441.6 614.0,445.4 614.2,442.8 614.5,443.8 614.7,444.8 615.0,443.4 615.2,443.8 615.5,443.7 615.7,443.7 616.0,445.6 616.2,443.4 616.5,443.8 616.7,444.3 617.0,444.3 617.2,440.5 617.5,444.0 617.7,441.5 618.0,440.6 618.2,442.8 618.5,446.3 618.7,444.8 619.0,445.6 619.2,443.9 619.5,445.1 619.7,443.8 620.0,444.8 620.2,442.9 620.5,446.2 620.7,443.3 621.0,443.9 621.2,442.1 621.5,444.0 621.7,442.1 622.0,440.9 622.2,445.4 622.5,439.6 622.7,446.6 623.0,445.3 623.2,443.6 623.5,441.2 623.7,441.8 624.0,446.6 624.2,444.4 624.5,442.7 624.7,445.1 625.0,442.8 625.2,444.4 625.5,441.3 625.7,443.6 626.0,444.3 626.2,442.8 626.5,442.0 626.7,443.5 627.0,446.5 627.2,443.0 627.5,442.3 627.7,445.6 628.0,441.9 628.2,443.8 628.5,442.1 628.7,444.5 629.0,442.2 629.2,442.5 629.5,440.9 629.7,444.0 630.0,444.3 630.2,439.3 630.5,441.6 630.7,442.7 631.0,444.9 631.2,442.5 631.5,442.7 631.7,443.5 632.0,441.6 632.2,443.9 632.5,441.7 632.7,443.8 633.0,444.9 633.2,445.1 633.5,441.7 633.7,442.0 634.0,438.6 634.2,444.3 634.5,440.9 634.7,446.6 635.0,442.5 635.2,442.1 635.5,443.4 635.7,441.8 636.0,443.9 636.2,445.3 636.5,440.9 636.7,442.2 637.0,446.0 637.2,441.3 637.5,442.9 637.7,445.2 638.0,441.4 638.2,445.0 638.5,440.4 638.7,441.0 639.0,444.5 639.2,440.7 639.5,446.6 639.7,444.7 640.0,441.3 640.2,443.3 640.5,446.1 640.7,442.5 641.0,443.8 641.2,442.6 641.5,440.5 641.7,440.8 642.0,444.0 642.2,442.0 642.5,446.0 642.7,445.2 643.0,444.1 643.2,443.2 643.5,443.4 643.7,440.7 644.0,446.1 644.2,443.7 644.5,443.0 644.7,443.7 645.0,443.2 645.2,440.8 645.5,445.2 645.7,443.0 646.0,441.1 646.2,442.8 646.5,446.3 646.7,444.2 647.0,441.7 647.2,443.2 647.5,443.8 647.7,440.1 648.0,446.5 648.2,441.9 648.5,440.4 648.7,439.3 649.0,444.0 649.2,446.2 649.5,444.5 649.7,444.2 650.0,442.1 650.2,444.2 650.5,442.1 650.7,443.5 651.0,444.2 651.2,445.4 651.5,441.8 651.7,442.6 652.0,444.4 652.2,442.7 652.5,445.7 652.7,443.1 653.0,444.5 653.2,443.0 653.5,442.2 653.7,446.3 654.0,445.5 654.2,443.3 654.5,441.2 654.7,445.6 655.0,440.7 655.2,445.2 655.5,443.8 655.7,440.6 656.0,441.6 656.2,441.1 656.5,444.1 656.7,441.9 657.0,445.3 657.2,441.0 657.5,444.8 657.7,445.7 658.0,441.8 658.2,435.6 658.5,445.1 658.7,444.9 659.0,444.0 659.2,441.2 659.5,440.8 659.7,441.5 660.0,444.1 660.2,440.4 660.5,444.7 660.7,440.9 661.0,443.1 661.2,443.7 661.5,445.0 661.7,443.1"/>
<text class="tk" x="75.3" y="481.5" text-anchor="middle" textLength="47.8" lengthAdjust="spacingAndGlyphs">1548</text>
<text class="tk" x="173.0" y="481.5" text-anchor="middle" textLength="47.8" lengthAdjust="spacingAndGlyphs">1549</text>
<text class="tk" x="270.8" y="481.5" text-anchor="middle" textLength="47.8" lengthAdjust="spacingAndGlyphs">1550</text>
<text class="tk" x="368.6" y="481.5" text-anchor="middle" textLength="47.8" lengthAdjust="spacingAndGlyphs">1551</text>
<text class="tk" x="466.3" y="481.5" text-anchor="middle" textLength="47.8" lengthAdjust="spacingAndGlyphs">1552</text>
<text class="tk" x="564.1" y="481.5" text-anchor="middle" textLength="47.8" lengthAdjust="spacingAndGlyphs">1553</text>
<text class="tk" x="661.8" y="481.5" text-anchor="middle" textLength="47.8" lengthAdjust="spacingAndGlyphs">1554</text>
<text class="tk" x="60.7" y="454.8" text-anchor="end" textLength="11.9" lengthAdjust="spacingAndGlyphs">0</text>
<text class="tk" x="62.2" y="367.1" text-anchor="end" textLength="31.2" lengthAdjust="spacingAndGlyphs">0.2</text>
<text class="tk" x="62.2" y="279.5" text-anchor="end" textLength="31.2" lengthAdjust="spacingAndGlyphs">0.4</text>
<text class="tk" x="62.2" y="191.8" text-anchor="end" textLength="31.2" lengthAdjust="spacingAndGlyphs">0.6</text>
<text class="tk" x="62.2" y="104.2" text-anchor="end" textLength="31.2" lengthAdjust="spacingAndGlyphs">0.8</text>
<text class="tk" x="61.4" y="16.5" text-anchor="end" textLength="11.9" lengthAdjust="spacingAndGlyphs">1</text>
<text class="lb" x="281.6" y="508.3" textLength="119.6" lengthAdjust="spacingAndGlyphs">Wavelength</text>
<text class="lb" x="411.2" y="508.3" textLength="43.6" lengthAdjust="spacingAndGlyphs">[nm]</text>
<text class="lb" transform="translate(17.2,345.6) rotate(-90)" textLength="117.3" lengthAdjust="spacingAndGlyphs">Normalised</text>
<text class="lb" transform="translate(17.2,216.8) rotate(-90)" textLength="105.5" lengthAdjust="spacingAndGlyphs">reflectance</text>
<text class="an" x="175" y="165.6" fill="#0072bd" stroke="#0072bd" textLength="27.8" lengthAdjust="spacingAndGlyphs">G2</text>
<text class="an" x="259.5" y="219" fill="#000" stroke="#000" textLength="10.5" lengthAdjust="spacingAndGlyphs">L</text>
<text class="an" x="289.6" y="291" fill="#d95319" stroke="#d95319" textLength="12.3" lengthAdjust="spacingAndGlyphs">P</text>
<text class="an" x="357.5" y="342" fill="#f50005" stroke="#f50005" textLength="26.9" lengthAdjust="spacingAndGlyphs">G3</text>
</svg>
</body></html>
